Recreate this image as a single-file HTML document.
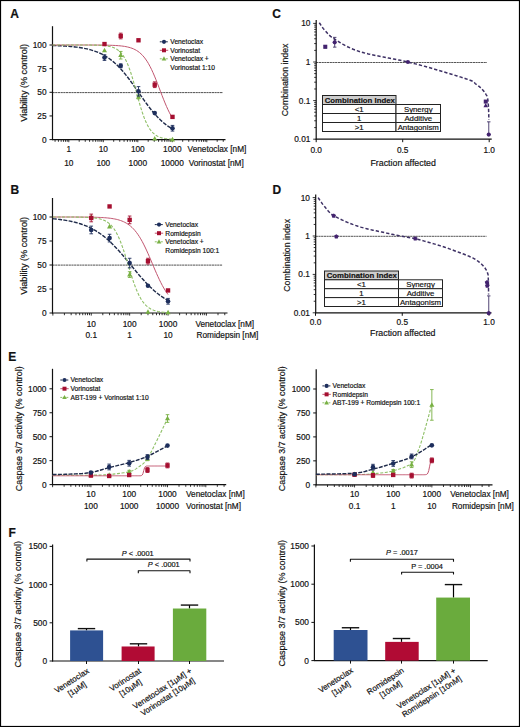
<!DOCTYPE html>
<html><head><meta charset="utf-8"><style>
html,body{margin:0;padding:0;background:#fff;}
svg{display:block;}
text{font-family:"Liberation Sans", sans-serif;stroke:#111;stroke-width:0.18px;}
</style></head><body>
<svg width="520" height="727" viewBox="0 0 520 727" font-family='"Liberation Sans", sans-serif'>
<rect x="0.5" y="0.5" width="519" height="726" fill="white" stroke="#000" stroke-width="1.2"/>
<text x="10.30" y="17.60" font-size="12" text-anchor="start" font-weight="bold" fill="#111">A</text>
<text x="10.60" y="193.80" font-size="12" text-anchor="start" font-weight="bold" fill="#111">B</text>
<text x="272.20" y="18.00" font-size="12" text-anchor="start" font-weight="bold" fill="#111">C</text>
<text x="272.40" y="194.00" font-size="12" text-anchor="start" font-weight="bold" fill="#111">D</text>
<text x="8.20" y="360.80" font-size="12" text-anchor="start" font-weight="bold" fill="#111">E</text>
<text x="8.60" y="537.20" font-size="12" text-anchor="start" font-weight="bold" fill="#111">F</text>
<line x1="52.50" y1="92.60" x2="223.00" y2="92.60" stroke="#505050" stroke-width="1.0" stroke-dasharray="2.2,0.5"/>
<line x1="52.50" y1="26.20" x2="52.50" y2="140.10" stroke="#111" stroke-width="1.2"/>
<line x1="52.00" y1="139.60" x2="225.50" y2="139.60" stroke="#111" stroke-width="1.2"/>
<line x1="49.50" y1="139.60" x2="52.50" y2="139.60" stroke="#111" stroke-width="1.0"/>
<text x="46.50" y="142.50" font-size="8.3" text-anchor="end" fill="#111">0</text>
<line x1="49.50" y1="115.95" x2="52.50" y2="115.95" stroke="#111" stroke-width="1.0"/>
<text x="46.50" y="118.85" font-size="8.3" text-anchor="end" fill="#111">25</text>
<line x1="49.50" y1="92.30" x2="52.50" y2="92.30" stroke="#111" stroke-width="1.0"/>
<text x="46.50" y="95.20" font-size="8.3" text-anchor="end" fill="#111">50</text>
<line x1="49.50" y1="68.65" x2="52.50" y2="68.65" stroke="#111" stroke-width="1.0"/>
<text x="46.50" y="71.55" font-size="8.3" text-anchor="end" fill="#111">75</text>
<line x1="49.50" y1="45.00" x2="52.50" y2="45.00" stroke="#111" stroke-width="1.0"/>
<text x="46.50" y="47.90" font-size="8.3" text-anchor="end" fill="#111">100</text>
<line x1="55.07" y1="139.60" x2="55.07" y2="141.81" stroke="#111" stroke-width="0.85"/>
<line x1="58.41" y1="139.60" x2="58.41" y2="141.81" stroke="#111" stroke-width="0.85"/>
<line x1="61.15" y1="139.60" x2="61.15" y2="141.81" stroke="#111" stroke-width="0.85"/>
<line x1="63.46" y1="139.60" x2="63.46" y2="141.81" stroke="#111" stroke-width="0.85"/>
<line x1="65.46" y1="139.60" x2="65.46" y2="141.81" stroke="#111" stroke-width="0.85"/>
<line x1="67.22" y1="139.60" x2="67.22" y2="141.81" stroke="#111" stroke-width="0.85"/>
<line x1="68.80" y1="139.60" x2="68.80" y2="142.20" stroke="#111" stroke-width="0.85"/>
<line x1="79.19" y1="139.60" x2="79.19" y2="141.81" stroke="#111" stroke-width="0.85"/>
<line x1="85.26" y1="139.60" x2="85.26" y2="141.81" stroke="#111" stroke-width="0.85"/>
<line x1="89.57" y1="139.60" x2="89.57" y2="141.81" stroke="#111" stroke-width="0.85"/>
<line x1="92.91" y1="139.60" x2="92.91" y2="141.81" stroke="#111" stroke-width="0.85"/>
<line x1="95.65" y1="139.60" x2="95.65" y2="141.81" stroke="#111" stroke-width="0.85"/>
<line x1="97.96" y1="139.60" x2="97.96" y2="141.81" stroke="#111" stroke-width="0.85"/>
<line x1="99.96" y1="139.60" x2="99.96" y2="141.81" stroke="#111" stroke-width="0.85"/>
<line x1="101.72" y1="139.60" x2="101.72" y2="141.81" stroke="#111" stroke-width="0.85"/>
<line x1="103.30" y1="139.60" x2="103.30" y2="142.20" stroke="#111" stroke-width="0.85"/>
<line x1="113.69" y1="139.60" x2="113.69" y2="141.81" stroke="#111" stroke-width="0.85"/>
<line x1="119.76" y1="139.60" x2="119.76" y2="141.81" stroke="#111" stroke-width="0.85"/>
<line x1="124.07" y1="139.60" x2="124.07" y2="141.81" stroke="#111" stroke-width="0.85"/>
<line x1="127.41" y1="139.60" x2="127.41" y2="141.81" stroke="#111" stroke-width="0.85"/>
<line x1="130.15" y1="139.60" x2="130.15" y2="141.81" stroke="#111" stroke-width="0.85"/>
<line x1="132.46" y1="139.60" x2="132.46" y2="141.81" stroke="#111" stroke-width="0.85"/>
<line x1="134.46" y1="139.60" x2="134.46" y2="141.81" stroke="#111" stroke-width="0.85"/>
<line x1="136.22" y1="139.60" x2="136.22" y2="141.81" stroke="#111" stroke-width="0.85"/>
<line x1="137.80" y1="139.60" x2="137.80" y2="142.20" stroke="#111" stroke-width="0.85"/>
<line x1="148.19" y1="139.60" x2="148.19" y2="141.81" stroke="#111" stroke-width="0.85"/>
<line x1="154.26" y1="139.60" x2="154.26" y2="141.81" stroke="#111" stroke-width="0.85"/>
<line x1="158.57" y1="139.60" x2="158.57" y2="141.81" stroke="#111" stroke-width="0.85"/>
<line x1="161.91" y1="139.60" x2="161.91" y2="141.81" stroke="#111" stroke-width="0.85"/>
<line x1="164.65" y1="139.60" x2="164.65" y2="141.81" stroke="#111" stroke-width="0.85"/>
<line x1="166.96" y1="139.60" x2="166.96" y2="141.81" stroke="#111" stroke-width="0.85"/>
<line x1="168.96" y1="139.60" x2="168.96" y2="141.81" stroke="#111" stroke-width="0.85"/>
<line x1="170.72" y1="139.60" x2="170.72" y2="141.81" stroke="#111" stroke-width="0.85"/>
<line x1="172.30" y1="139.60" x2="172.30" y2="142.20" stroke="#111" stroke-width="0.85"/>
<line x1="182.69" y1="139.60" x2="182.69" y2="141.81" stroke="#111" stroke-width="0.85"/>
<line x1="188.76" y1="139.60" x2="188.76" y2="141.81" stroke="#111" stroke-width="0.85"/>
<line x1="193.07" y1="139.60" x2="193.07" y2="141.81" stroke="#111" stroke-width="0.85"/>
<line x1="196.41" y1="139.60" x2="196.41" y2="141.81" stroke="#111" stroke-width="0.85"/>
<line x1="199.15" y1="139.60" x2="199.15" y2="141.81" stroke="#111" stroke-width="0.85"/>
<line x1="201.46" y1="139.60" x2="201.46" y2="141.81" stroke="#111" stroke-width="0.85"/>
<line x1="203.46" y1="139.60" x2="203.46" y2="141.81" stroke="#111" stroke-width="0.85"/>
<line x1="205.22" y1="139.60" x2="205.22" y2="141.81" stroke="#111" stroke-width="0.85"/>
<line x1="206.80" y1="139.60" x2="206.80" y2="142.20" stroke="#111" stroke-width="0.85"/>
<line x1="217.19" y1="139.60" x2="217.19" y2="141.81" stroke="#111" stroke-width="0.85"/>
<line x1="223.26" y1="139.60" x2="223.26" y2="141.81" stroke="#111" stroke-width="0.85"/>
<text x="68.80" y="152.20" font-size="8.3" text-anchor="middle" fill="#111">1</text>
<text x="68.80" y="165.80" font-size="8.3" text-anchor="middle" fill="#111">10</text>
<text x="103.30" y="152.20" font-size="8.3" text-anchor="middle" fill="#111">10</text>
<text x="103.30" y="165.80" font-size="8.3" text-anchor="middle" fill="#111">100</text>
<text x="137.80" y="152.20" font-size="8.3" text-anchor="middle" fill="#111">100</text>
<text x="137.80" y="165.80" font-size="8.3" text-anchor="middle" fill="#111">1000</text>
<text x="172.30" y="152.20" font-size="8.3" text-anchor="middle" fill="#111">1000</text>
<text x="172.30" y="165.80" font-size="8.3" text-anchor="middle" fill="#111">10000</text>
<text x="187.60" y="152.20" font-size="8.25" text-anchor="start" fill="#111">Venetoclax [nM]</text>
<text x="188.70" y="165.80" font-size="8.25" text-anchor="start" fill="#111">Vorinostat [nM]</text>
<text x="27.30" y="82.90" font-size="9.1" text-anchor="middle" fill="#111" transform="rotate(-90 27.30 82.90)">Viability (% control)</text>
<polyline points="52.48,45.50 53.98,45.54 55.48,45.60 56.98,45.65 58.48,45.72 59.98,45.78 61.48,45.86 62.98,45.94 64.48,46.03 65.98,46.12 67.48,46.23 68.98,46.35 70.48,46.47 71.98,46.61 73.48,46.76 74.98,46.93 76.48,47.11 77.98,47.31 79.48,47.52 80.98,47.76 82.48,48.01 83.99,48.29 85.49,48.60 86.99,48.93 88.49,49.28 89.99,49.67 91.49,50.10 92.99,50.56 94.49,51.05 95.99,51.59 97.49,52.18 98.99,52.81 100.49,53.49 101.99,54.22 103.49,55.01 104.99,55.86 106.49,56.77 107.99,57.75 109.49,58.79 110.99,59.90 112.49,61.09 113.99,62.34 115.49,63.68 116.99,65.09 118.49,66.57 119.99,68.13 121.49,69.77 122.99,71.47 124.49,73.25 125.99,75.10 127.49,77.00 128.99,78.97 130.49,80.98 131.99,83.04 133.49,85.14 134.99,87.26 136.49,89.41 137.99,91.57 139.49,93.73 140.99,95.89 142.50,98.03 144.00,100.15 145.50,102.23 147.00,104.28 148.50,106.28 150.00,108.23 151.50,110.11 153.00,111.94 154.50,113.69 156.00,115.38 157.50,116.99 159.00,118.52 160.50,119.98 162.00,121.37 163.50,122.67 165.00,123.91 166.50,125.07 168.00,126.16 169.50,127.18 171.00,128.13 172.50,129.02" fill="none" stroke="#1f2b4a" stroke-width="1.4" stroke-dasharray="4,1.3" stroke-linejoin="round"/>
<polyline points="52.48,45.00 53.98,45.00 55.48,45.00 56.98,45.00 58.48,45.00 59.98,45.00 61.48,45.00 62.98,45.00 64.48,45.00 65.98,45.00 67.48,45.00 68.98,45.00 70.48,45.00 71.98,45.00 73.48,45.00 74.98,45.00 76.48,45.01 77.98,45.01 79.48,45.01 80.98,45.01 82.48,45.01 83.99,45.01 85.49,45.01 86.99,45.02 88.49,45.02 89.99,45.02 91.49,45.03 92.99,45.04 94.49,45.04 95.99,45.05 97.49,45.06 98.99,45.07 100.49,45.08 101.99,45.10 103.49,45.12 104.99,45.14 106.49,45.17 107.99,45.20 109.49,45.24 110.99,45.29 112.49,45.35 113.99,45.41 115.49,45.49 116.99,45.58 118.49,45.70 119.99,45.83 121.49,45.99 122.99,46.17 124.49,46.39 125.99,46.66 127.49,46.97 128.99,47.34 130.49,47.77 131.99,48.28 133.49,48.89 134.99,49.60 136.49,50.43 137.99,51.40 139.49,52.52 140.99,53.83 142.50,55.33 144.00,57.05 145.50,59.00 147.00,61.20 148.50,63.67 150.00,66.41 151.50,69.40 153.00,72.65 154.50,76.12 156.00,79.79 157.50,83.60 159.00,87.51 160.50,91.46 162.00,95.38 163.50,99.22 165.00,102.92 166.50,106.44 168.00,109.74 169.50,112.80 171.00,115.59 172.50,118.12" fill="none" stroke="#c25670" stroke-width="1.0" stroke-linejoin="round"/>
<polyline points="52.48,45.00 53.98,45.00 55.48,45.00 56.98,45.00 58.48,45.00 59.98,45.00 61.48,45.00 62.98,45.00 64.48,45.00 65.98,45.00 67.48,45.00 68.98,45.00 70.48,45.00 71.98,45.00 73.48,45.01 74.98,45.01 76.48,45.01 77.98,45.01 79.48,45.01 80.98,45.02 82.48,45.02 83.99,45.03 85.49,45.03 86.99,45.04 88.49,45.05 89.99,45.07 91.49,45.09 92.99,45.11 94.49,45.14 95.99,45.17 97.49,45.22 98.99,45.28 100.49,45.35 101.99,45.44 103.49,45.55 104.99,45.70 106.49,45.88 107.99,46.11 109.49,46.40 110.99,46.76 112.49,47.21 113.99,47.77 115.49,48.48 116.99,49.35 118.49,50.43 119.99,51.76 121.49,53.38 122.99,55.34 124.49,57.70 125.99,60.49 127.49,63.76 128.99,67.52 130.49,71.78 131.99,76.48 133.49,81.56 134.99,86.92 136.49,92.43 137.99,97.93 139.49,103.27 140.99,108.34 142.50,113.03 144.00,117.26 145.50,121.00 147.00,124.24 148.50,127.02 150.00,129.36 151.50,131.30 153.00,132.91 154.50,134.23 156.00,135.29 157.50,136.16 159.00,136.86 160.50,137.41 162.00,137.86 163.50,138.22 165.00,138.50 166.50,138.73 168.00,138.91 169.50,139.05 171.00,139.17 172.50,139.26" fill="none" stroke="#8ebf66" stroke-width="1.1" stroke-dasharray="3,1.6" stroke-linejoin="round"/>
<line x1="120.72" y1="51.43" x2="120.72" y2="59.00" stroke="#78b043" stroke-width="0.9"/>
<line x1="118.92" y1="51.43" x2="122.52" y2="51.43" stroke="#78b043" stroke-width="0.9"/>
<line x1="118.92" y1="59.00" x2="122.52" y2="59.00" stroke="#78b043" stroke-width="0.9"/>
<line x1="138.50" y1="95.14" x2="138.50" y2="98.92" stroke="#78b043" stroke-width="0.9"/>
<line x1="136.70" y1="95.14" x2="140.30" y2="95.14" stroke="#78b043" stroke-width="0.9"/>
<line x1="136.70" y1="98.92" x2="140.30" y2="98.92" stroke="#78b043" stroke-width="0.9"/>
<polygon points="104.50,47.66 101.97,52.21 107.03,52.21" fill="#78b043"/>
<polygon points="120.72,52.48 118.19,57.04 123.25,57.04" fill="#78b043"/>
<polygon points="138.50,94.30 135.97,98.85 141.03,98.85" fill="#78b043"/>
<polygon points="154.72,135.92 152.19,140.48 157.25,140.48" fill="#78b043"/>
<polygon points="172.50,136.87 169.97,141.42 175.03,141.42" fill="#78b043"/>
<line x1="120.72" y1="33.17" x2="120.72" y2="38.85" stroke="#a50f30" stroke-width="0.9"/>
<line x1="118.92" y1="33.17" x2="122.52" y2="33.17" stroke="#a50f30" stroke-width="0.9"/>
<line x1="118.92" y1="38.85" x2="122.52" y2="38.85" stroke="#a50f30" stroke-width="0.9"/>
<line x1="154.72" y1="81.89" x2="154.72" y2="87.57" stroke="#a50f30" stroke-width="0.9"/>
<line x1="152.92" y1="81.89" x2="156.52" y2="81.89" stroke="#a50f30" stroke-width="0.9"/>
<line x1="152.92" y1="87.57" x2="156.52" y2="87.57" stroke="#a50f30" stroke-width="0.9"/>
<rect x="102.31" y="41.87" width="4.369999999999999" height="4.369999999999999" fill="#a50f30"/>
<rect x="118.54" y="33.83" width="4.369999999999999" height="4.369999999999999" fill="#a50f30"/>
<rect x="136.31" y="38.09" width="4.369999999999999" height="4.369999999999999" fill="#a50f30"/>
<rect x="152.54" y="82.55" width="4.369999999999999" height="4.369999999999999" fill="#a50f30"/>
<rect x="170.31" y="114.71" width="4.369999999999999" height="4.369999999999999" fill="#a50f30"/>
<line x1="104.50" y1="54.74" x2="104.50" y2="60.42" stroke="#1d2e5c" stroke-width="0.9"/>
<line x1="102.70" y1="54.74" x2="106.30" y2="54.74" stroke="#1d2e5c" stroke-width="0.9"/>
<line x1="102.70" y1="60.42" x2="106.30" y2="60.42" stroke="#1d2e5c" stroke-width="0.9"/>
<line x1="120.72" y1="63.92" x2="120.72" y2="67.70" stroke="#1d2e5c" stroke-width="0.9"/>
<line x1="118.92" y1="63.92" x2="122.52" y2="63.92" stroke="#1d2e5c" stroke-width="0.9"/>
<line x1="118.92" y1="67.70" x2="122.52" y2="67.70" stroke="#1d2e5c" stroke-width="0.9"/>
<line x1="138.50" y1="86.62" x2="138.50" y2="96.08" stroke="#1d2e5c" stroke-width="0.9"/>
<line x1="136.70" y1="86.62" x2="140.30" y2="86.62" stroke="#1d2e5c" stroke-width="0.9"/>
<line x1="136.70" y1="96.08" x2="140.30" y2="96.08" stroke="#1d2e5c" stroke-width="0.9"/>
<line x1="172.50" y1="125.41" x2="172.50" y2="131.09" stroke="#1d2e5c" stroke-width="0.9"/>
<line x1="170.70" y1="125.41" x2="174.30" y2="125.41" stroke="#1d2e5c" stroke-width="0.9"/>
<line x1="170.70" y1="131.09" x2="174.30" y2="131.09" stroke="#1d2e5c" stroke-width="0.9"/>
<circle cx="104.50" cy="57.58" r="2.3" fill="#1d2e5c"/>
<circle cx="120.72" cy="65.81" r="2.3" fill="#1d2e5c"/>
<circle cx="138.50" cy="91.35" r="2.3" fill="#1d2e5c"/>
<circle cx="154.72" cy="113.11" r="2.3" fill="#1d2e5c"/>
<circle cx="172.50" cy="128.25" r="2.3" fill="#1d2e5c"/>
<line x1="159.80" y1="41.80" x2="168.20" y2="41.80" stroke="#1f2b4a" stroke-width="1.0" stroke-dasharray="2,1"/>
<circle cx="164.00" cy="41.80" r="2.1" fill="#1d2e5c"/>
<text x="170.30" y="44.20" font-size="6.7" text-anchor="start" fill="#111">Venetoclax</text>
<line x1="159.80" y1="50.30" x2="168.20" y2="50.30" stroke="#c25670" stroke-width="1.0"/>
<rect x="162.00" y="48.30" width="3.9899999999999998" height="3.9899999999999998" fill="#a50f30"/>
<text x="170.30" y="52.70" font-size="6.7" text-anchor="start" fill="#111">Vorinostat</text>
<line x1="159.80" y1="58.80" x2="168.20" y2="58.80" stroke="#8ebf66" stroke-width="1.0" stroke-dasharray="2,1"/>
<polygon points="164.00,56.31 161.69,60.46 166.31,60.46" fill="#78b043"/>
<text x="170.30" y="61.20" font-size="6.7" text-anchor="start" fill="#111">Venetoclax +</text>
<text x="170.30" y="69.70" font-size="6.7" text-anchor="start" fill="#111">Vorinostat 1:10</text>
<line x1="52.50" y1="265.10" x2="222.60" y2="265.10" stroke="#505050" stroke-width="1.0" stroke-dasharray="2.2,0.5"/>
<line x1="52.50" y1="198.00" x2="52.50" y2="313.50" stroke="#111" stroke-width="1.2"/>
<line x1="52.00" y1="313.00" x2="227.50" y2="313.00" stroke="#111" stroke-width="1.2"/>
<line x1="49.50" y1="313.00" x2="52.50" y2="313.00" stroke="#111" stroke-width="1.0"/>
<text x="46.50" y="315.90" font-size="8.3" text-anchor="end" fill="#111">0</text>
<line x1="49.50" y1="289.00" x2="52.50" y2="289.00" stroke="#111" stroke-width="1.0"/>
<text x="46.50" y="291.90" font-size="8.3" text-anchor="end" fill="#111">25</text>
<line x1="49.50" y1="265.00" x2="52.50" y2="265.00" stroke="#111" stroke-width="1.0"/>
<text x="46.50" y="267.90" font-size="8.3" text-anchor="end" fill="#111">50</text>
<line x1="49.50" y1="241.00" x2="52.50" y2="241.00" stroke="#111" stroke-width="1.0"/>
<text x="46.50" y="243.90" font-size="8.3" text-anchor="end" fill="#111">75</text>
<line x1="49.50" y1="217.00" x2="52.50" y2="217.00" stroke="#111" stroke-width="1.0"/>
<text x="46.50" y="219.90" font-size="8.3" text-anchor="end" fill="#111">100</text>
<line x1="52.85" y1="313.00" x2="52.85" y2="315.60" stroke="#111" stroke-width="0.85"/>
<line x1="64.41" y1="313.00" x2="64.41" y2="315.21" stroke="#111" stroke-width="0.85"/>
<line x1="71.17" y1="313.00" x2="71.17" y2="315.21" stroke="#111" stroke-width="0.85"/>
<line x1="75.97" y1="313.00" x2="75.97" y2="315.21" stroke="#111" stroke-width="0.85"/>
<line x1="79.69" y1="313.00" x2="79.69" y2="315.21" stroke="#111" stroke-width="0.85"/>
<line x1="82.73" y1="313.00" x2="82.73" y2="315.21" stroke="#111" stroke-width="0.85"/>
<line x1="85.30" y1="313.00" x2="85.30" y2="315.21" stroke="#111" stroke-width="0.85"/>
<line x1="87.53" y1="313.00" x2="87.53" y2="315.21" stroke="#111" stroke-width="0.85"/>
<line x1="89.49" y1="313.00" x2="89.49" y2="315.21" stroke="#111" stroke-width="0.85"/>
<line x1="91.25" y1="313.00" x2="91.25" y2="315.60" stroke="#111" stroke-width="0.85"/>
<line x1="102.81" y1="313.00" x2="102.81" y2="315.21" stroke="#111" stroke-width="0.85"/>
<line x1="109.57" y1="313.00" x2="109.57" y2="315.21" stroke="#111" stroke-width="0.85"/>
<line x1="114.37" y1="313.00" x2="114.37" y2="315.21" stroke="#111" stroke-width="0.85"/>
<line x1="118.09" y1="313.00" x2="118.09" y2="315.21" stroke="#111" stroke-width="0.85"/>
<line x1="121.13" y1="313.00" x2="121.13" y2="315.21" stroke="#111" stroke-width="0.85"/>
<line x1="123.70" y1="313.00" x2="123.70" y2="315.21" stroke="#111" stroke-width="0.85"/>
<line x1="125.93" y1="313.00" x2="125.93" y2="315.21" stroke="#111" stroke-width="0.85"/>
<line x1="127.89" y1="313.00" x2="127.89" y2="315.21" stroke="#111" stroke-width="0.85"/>
<line x1="129.65" y1="313.00" x2="129.65" y2="315.60" stroke="#111" stroke-width="0.85"/>
<line x1="141.21" y1="313.00" x2="141.21" y2="315.21" stroke="#111" stroke-width="0.85"/>
<line x1="147.97" y1="313.00" x2="147.97" y2="315.21" stroke="#111" stroke-width="0.85"/>
<line x1="152.77" y1="313.00" x2="152.77" y2="315.21" stroke="#111" stroke-width="0.85"/>
<line x1="156.49" y1="313.00" x2="156.49" y2="315.21" stroke="#111" stroke-width="0.85"/>
<line x1="159.53" y1="313.00" x2="159.53" y2="315.21" stroke="#111" stroke-width="0.85"/>
<line x1="162.10" y1="313.00" x2="162.10" y2="315.21" stroke="#111" stroke-width="0.85"/>
<line x1="164.33" y1="313.00" x2="164.33" y2="315.21" stroke="#111" stroke-width="0.85"/>
<line x1="166.29" y1="313.00" x2="166.29" y2="315.21" stroke="#111" stroke-width="0.85"/>
<line x1="168.05" y1="313.00" x2="168.05" y2="315.60" stroke="#111" stroke-width="0.85"/>
<line x1="179.61" y1="313.00" x2="179.61" y2="315.21" stroke="#111" stroke-width="0.85"/>
<line x1="186.37" y1="313.00" x2="186.37" y2="315.21" stroke="#111" stroke-width="0.85"/>
<line x1="191.17" y1="313.00" x2="191.17" y2="315.21" stroke="#111" stroke-width="0.85"/>
<line x1="194.89" y1="313.00" x2="194.89" y2="315.21" stroke="#111" stroke-width="0.85"/>
<line x1="197.93" y1="313.00" x2="197.93" y2="315.21" stroke="#111" stroke-width="0.85"/>
<line x1="200.50" y1="313.00" x2="200.50" y2="315.21" stroke="#111" stroke-width="0.85"/>
<line x1="202.73" y1="313.00" x2="202.73" y2="315.21" stroke="#111" stroke-width="0.85"/>
<line x1="204.69" y1="313.00" x2="204.69" y2="315.21" stroke="#111" stroke-width="0.85"/>
<line x1="206.45" y1="313.00" x2="206.45" y2="315.60" stroke="#111" stroke-width="0.85"/>
<line x1="218.01" y1="313.00" x2="218.01" y2="315.21" stroke="#111" stroke-width="0.85"/>
<line x1="224.77" y1="313.00" x2="224.77" y2="315.21" stroke="#111" stroke-width="0.85"/>
<text x="91.25" y="326.50" font-size="8.3" text-anchor="middle" fill="#111">10</text>
<text x="91.25" y="338.20" font-size="8.3" text-anchor="middle" fill="#111">0.1</text>
<text x="129.65" y="326.50" font-size="8.3" text-anchor="middle" fill="#111">100</text>
<text x="129.65" y="338.20" font-size="8.3" text-anchor="middle" fill="#111">1</text>
<text x="168.05" y="326.50" font-size="8.3" text-anchor="middle" fill="#111">1000</text>
<text x="168.05" y="338.20" font-size="8.3" text-anchor="middle" fill="#111">10</text>
<text x="195.40" y="326.50" font-size="8.25" text-anchor="start" fill="#111">Venetoclax [nM]</text>
<text x="196.50" y="338.20" font-size="8.25" text-anchor="start" fill="#111">Romidepsin [nM]</text>
<text x="27.30" y="255.80" font-size="9.1" text-anchor="middle" fill="#111" transform="rotate(-90 27.30 255.80)">Viability (% control)</text>
<polyline points="52.85,218.77 54.29,218.91 55.73,219.05 57.17,219.20 58.61,219.36 60.05,219.54 61.49,219.73 62.93,219.93 64.37,220.14 65.81,220.37 67.25,220.62 68.69,220.89 70.13,221.17 71.57,221.47 73.01,221.79 74.45,222.14 75.89,222.51 77.33,222.90 78.77,223.32 80.21,223.77 81.65,224.25 83.09,224.75 84.53,225.29 85.97,225.87 87.41,226.48 88.85,227.12 90.29,227.81 91.73,228.53 93.17,229.30 94.61,230.10 96.05,230.96 97.49,231.86 98.93,232.80 100.37,233.79 101.81,234.83 103.25,235.93 104.69,237.07 106.13,238.25 107.57,239.49 109.01,240.78 110.45,242.12 111.89,243.51 113.33,244.94 114.77,246.41 116.21,247.93 117.65,249.49 119.09,251.08 120.53,252.71 121.97,254.38 123.41,256.06 124.85,257.77 126.29,259.50 127.73,261.25 129.17,263.00 130.61,264.77 132.05,266.53 133.49,268.28 134.93,270.03 136.37,271.77 137.81,273.48 139.25,275.18 140.69,276.85 142.13,278.48 143.57,280.09 145.01,281.66 146.45,283.19 147.89,284.67 149.33,286.12 150.77,287.52 152.21,288.87 153.65,290.17 155.09,291.42 156.53,292.62 157.97,293.78 159.41,294.88 160.85,295.93 162.29,296.94 163.73,297.90 165.17,298.81 166.61,299.67 168.05,300.49" fill="none" stroke="#1f2b4a" stroke-width="1.4" stroke-dasharray="4,1.3" stroke-linejoin="round"/>
<polyline points="52.85,217.00 54.29,217.00 55.73,217.00 57.17,217.01 58.61,217.01 60.05,217.01 61.49,217.01 62.93,217.01 64.37,217.01 65.81,217.01 67.25,217.02 68.69,217.02 70.13,217.02 71.57,217.02 73.01,217.03 74.45,217.03 75.89,217.04 77.33,217.04 78.77,217.05 80.21,217.06 81.65,217.07 83.09,217.08 84.53,217.09 85.97,217.11 87.41,217.12 88.85,217.14 90.29,217.17 91.73,217.19 93.17,217.22 94.61,217.26 96.05,217.30 97.49,217.35 98.93,217.40 100.37,217.47 101.81,217.54 103.25,217.62 104.69,217.72 106.13,217.83 107.57,217.96 109.01,218.11 110.45,218.29 111.89,218.49 113.33,218.72 114.77,218.99 116.21,219.29 117.65,219.64 119.09,220.05 120.53,220.51 121.97,221.04 123.41,221.65 124.85,222.34 126.29,223.13 127.73,224.03 129.17,225.05 130.61,226.19 132.05,227.48 133.49,228.93 134.93,230.54 136.37,232.33 137.81,234.30 139.25,236.46 140.69,238.82 142.13,241.37 143.57,244.10 145.01,247.00 146.45,250.06 147.89,253.25 149.33,256.55 150.77,259.92 152.21,263.33 153.65,266.74 155.09,270.12 156.53,273.43 157.97,276.64 159.41,279.72 160.85,282.64 162.29,285.40 163.73,287.97 165.17,290.35 166.61,292.54 168.05,294.54" fill="none" stroke="#c25670" stroke-width="1.0" stroke-linejoin="round"/>
<polyline points="52.85,217.00 54.29,217.00 55.73,217.00 57.17,217.01 58.61,217.01 60.05,217.01 61.49,217.01 62.93,217.01 64.37,217.01 65.81,217.02 67.25,217.02 68.69,217.03 70.13,217.03 71.57,217.04 73.01,217.05 74.45,217.06 75.89,217.07 77.33,217.09 78.77,217.11 80.21,217.13 81.65,217.16 83.09,217.19 84.53,217.23 85.97,217.28 87.41,217.35 88.85,217.42 90.29,217.51 91.73,217.62 93.17,217.76 94.61,217.93 96.05,218.13 97.49,218.37 98.93,218.67 100.37,219.03 101.81,219.46 103.25,219.98 104.69,220.61 106.13,221.37 107.57,222.28 109.01,223.36 110.45,224.65 111.89,226.17 113.33,227.95 114.77,230.03 116.21,232.44 117.65,235.19 119.09,238.29 120.53,241.77 121.97,245.59 123.41,249.73 124.85,254.13 126.29,258.74 127.73,263.48 129.17,268.24 130.61,272.93 132.05,277.48 133.49,281.80 134.93,285.83 136.37,289.53 137.81,292.87 139.25,295.85 140.69,298.47 142.13,300.75 143.57,302.72 145.01,304.41 146.45,305.84 147.89,307.05 149.33,308.07 150.77,308.92 152.21,309.63 153.65,310.22 155.09,310.71 156.53,311.11 157.97,311.45 159.41,311.72 160.85,311.95 162.29,312.14 163.73,312.29 165.17,312.42 166.61,312.52 168.05,312.61" fill="none" stroke="#8ebf66" stroke-width="1.1" stroke-dasharray="3,1.6" stroke-linejoin="round"/>
<line x1="129.65" y1="271.72" x2="129.65" y2="277.48" stroke="#78b043" stroke-width="0.9"/>
<line x1="127.85" y1="271.72" x2="131.45" y2="271.72" stroke="#78b043" stroke-width="0.9"/>
<line x1="127.85" y1="277.48" x2="131.45" y2="277.48" stroke="#78b043" stroke-width="0.9"/>
<polygon points="91.25,214.27 88.72,218.82 93.78,218.82" fill="#78b043"/>
<polygon points="109.57,223.87 107.04,228.42 112.10,228.42" fill="#78b043"/>
<polygon points="129.65,271.87 127.12,276.42 132.18,276.42" fill="#78b043"/>
<polygon points="147.97,309.31 145.44,313.86 150.50,313.86" fill="#78b043"/>
<polygon points="168.05,309.79 165.52,314.34 170.58,314.34" fill="#78b043"/>
<line x1="91.25" y1="214.12" x2="91.25" y2="221.80" stroke="#a50f30" stroke-width="0.9"/>
<line x1="89.45" y1="214.12" x2="93.05" y2="214.12" stroke="#a50f30" stroke-width="0.9"/>
<line x1="89.45" y1="221.80" x2="93.05" y2="221.80" stroke="#a50f30" stroke-width="0.9"/>
<line x1="129.65" y1="216.04" x2="129.65" y2="223.72" stroke="#a50f30" stroke-width="0.9"/>
<line x1="127.85" y1="216.04" x2="131.45" y2="216.04" stroke="#a50f30" stroke-width="0.9"/>
<line x1="127.85" y1="223.72" x2="131.45" y2="223.72" stroke="#a50f30" stroke-width="0.9"/>
<line x1="147.97" y1="258.28" x2="147.97" y2="264.04" stroke="#a50f30" stroke-width="0.9"/>
<line x1="146.17" y1="258.28" x2="149.77" y2="258.28" stroke="#a50f30" stroke-width="0.9"/>
<line x1="146.17" y1="264.04" x2="149.77" y2="264.04" stroke="#a50f30" stroke-width="0.9"/>
<rect x="89.06" y="215.78" width="4.369999999999999" height="4.369999999999999" fill="#a50f30"/>
<rect x="107.39" y="204.25" width="4.369999999999999" height="4.369999999999999" fill="#a50f30"/>
<rect x="127.47" y="217.69" width="4.369999999999999" height="4.369999999999999" fill="#a50f30"/>
<rect x="145.79" y="258.97" width="4.369999999999999" height="4.369999999999999" fill="#a50f30"/>
<rect x="165.86" y="288.25" width="4.369999999999999" height="4.369999999999999" fill="#a50f30"/>
<line x1="91.25" y1="226.12" x2="91.25" y2="233.80" stroke="#1d2e5c" stroke-width="0.9"/>
<line x1="89.45" y1="226.12" x2="93.05" y2="226.12" stroke="#1d2e5c" stroke-width="0.9"/>
<line x1="89.45" y1="233.80" x2="93.05" y2="233.80" stroke="#1d2e5c" stroke-width="0.9"/>
<line x1="109.57" y1="234.28" x2="109.57" y2="241.96" stroke="#1d2e5c" stroke-width="0.9"/>
<line x1="107.77" y1="234.28" x2="111.37" y2="234.28" stroke="#1d2e5c" stroke-width="0.9"/>
<line x1="107.77" y1="241.96" x2="111.37" y2="241.96" stroke="#1d2e5c" stroke-width="0.9"/>
<line x1="129.65" y1="258.28" x2="129.65" y2="267.88" stroke="#1d2e5c" stroke-width="0.9"/>
<line x1="127.85" y1="258.28" x2="131.45" y2="258.28" stroke="#1d2e5c" stroke-width="0.9"/>
<line x1="127.85" y1="267.88" x2="131.45" y2="267.88" stroke="#1d2e5c" stroke-width="0.9"/>
<line x1="168.05" y1="298.41" x2="168.05" y2="304.17" stroke="#1d2e5c" stroke-width="0.9"/>
<line x1="166.25" y1="298.41" x2="169.85" y2="298.41" stroke="#1d2e5c" stroke-width="0.9"/>
<line x1="166.25" y1="304.17" x2="169.85" y2="304.17" stroke="#1d2e5c" stroke-width="0.9"/>
<circle cx="91.25" cy="229.96" r="2.3" fill="#1d2e5c"/>
<circle cx="109.57" cy="238.12" r="2.3" fill="#1d2e5c"/>
<circle cx="129.65" cy="263.08" r="2.3" fill="#1d2e5c"/>
<circle cx="147.97" cy="285.74" r="2.3" fill="#1d2e5c"/>
<circle cx="168.05" cy="301.29" r="2.3" fill="#1d2e5c"/>
<line x1="154.80" y1="224.60" x2="163.20" y2="224.60" stroke="#1f2b4a" stroke-width="1.0" stroke-dasharray="2,1"/>
<circle cx="159.00" cy="224.60" r="2.1" fill="#1d2e5c"/>
<text x="165.30" y="227.00" font-size="6.7" text-anchor="start" fill="#111">Venetoclax</text>
<line x1="154.80" y1="233.20" x2="163.20" y2="233.20" stroke="#c25670" stroke-width="1.0"/>
<rect x="157.00" y="231.20" width="3.9899999999999998" height="3.9899999999999998" fill="#a50f30"/>
<text x="165.30" y="235.60" font-size="6.7" text-anchor="start" fill="#111">Romidepsin</text>
<line x1="154.80" y1="241.80" x2="163.20" y2="241.80" stroke="#8ebf66" stroke-width="1.0" stroke-dasharray="2,1"/>
<polygon points="159.00,239.31 156.69,243.46 161.31,243.46" fill="#78b043"/>
<text x="165.30" y="244.20" font-size="6.7" text-anchor="start" fill="#111">Venetoclax +</text>
<text x="165.30" y="252.80" font-size="6.7" text-anchor="start" fill="#111">Romidepsin 100:1</text>
<line x1="316.20" y1="62.50" x2="487.00" y2="62.50" stroke="#555" stroke-width="1.0" stroke-dasharray="2.2,0.5"/>
<line x1="316.20" y1="20.00" x2="316.20" y2="139.70" stroke="#111" stroke-width="1.2"/>
<line x1="315.70" y1="139.20" x2="491.70" y2="139.20" stroke="#111" stroke-width="1.2"/>
<line x1="313.20" y1="139.20" x2="316.20" y2="139.20" stroke="#111" stroke-width="0.85"/>
<line x1="314.20" y1="127.58" x2="316.20" y2="127.58" stroke="#111" stroke-width="0.85"/>
<line x1="314.20" y1="120.78" x2="316.20" y2="120.78" stroke="#111" stroke-width="0.85"/>
<line x1="314.20" y1="115.96" x2="316.20" y2="115.96" stroke="#111" stroke-width="0.85"/>
<line x1="314.20" y1="112.22" x2="316.20" y2="112.22" stroke="#111" stroke-width="0.85"/>
<line x1="314.20" y1="109.16" x2="316.20" y2="109.16" stroke="#111" stroke-width="0.85"/>
<line x1="314.20" y1="106.58" x2="316.20" y2="106.58" stroke="#111" stroke-width="0.85"/>
<line x1="314.20" y1="104.34" x2="316.20" y2="104.34" stroke="#111" stroke-width="0.85"/>
<line x1="314.20" y1="102.37" x2="316.20" y2="102.37" stroke="#111" stroke-width="0.85"/>
<line x1="313.20" y1="100.60" x2="316.20" y2="100.60" stroke="#111" stroke-width="0.85"/>
<line x1="314.20" y1="88.98" x2="316.20" y2="88.98" stroke="#111" stroke-width="0.85"/>
<line x1="314.20" y1="82.18" x2="316.20" y2="82.18" stroke="#111" stroke-width="0.85"/>
<line x1="314.20" y1="77.36" x2="316.20" y2="77.36" stroke="#111" stroke-width="0.85"/>
<line x1="314.20" y1="73.62" x2="316.20" y2="73.62" stroke="#111" stroke-width="0.85"/>
<line x1="314.20" y1="70.56" x2="316.20" y2="70.56" stroke="#111" stroke-width="0.85"/>
<line x1="314.20" y1="67.98" x2="316.20" y2="67.98" stroke="#111" stroke-width="0.85"/>
<line x1="314.20" y1="65.74" x2="316.20" y2="65.74" stroke="#111" stroke-width="0.85"/>
<line x1="314.20" y1="63.77" x2="316.20" y2="63.77" stroke="#111" stroke-width="0.85"/>
<line x1="313.20" y1="62.00" x2="316.20" y2="62.00" stroke="#111" stroke-width="0.85"/>
<line x1="314.20" y1="50.38" x2="316.20" y2="50.38" stroke="#111" stroke-width="0.85"/>
<line x1="314.20" y1="43.58" x2="316.20" y2="43.58" stroke="#111" stroke-width="0.85"/>
<line x1="314.20" y1="38.76" x2="316.20" y2="38.76" stroke="#111" stroke-width="0.85"/>
<line x1="314.20" y1="35.02" x2="316.20" y2="35.02" stroke="#111" stroke-width="0.85"/>
<line x1="314.20" y1="31.96" x2="316.20" y2="31.96" stroke="#111" stroke-width="0.85"/>
<line x1="314.20" y1="29.38" x2="316.20" y2="29.38" stroke="#111" stroke-width="0.85"/>
<line x1="314.20" y1="27.14" x2="316.20" y2="27.14" stroke="#111" stroke-width="0.85"/>
<line x1="314.20" y1="25.17" x2="316.20" y2="25.17" stroke="#111" stroke-width="0.85"/>
<line x1="313.20" y1="23.40" x2="316.20" y2="23.40" stroke="#111" stroke-width="0.85"/>
<text x="310.40" y="26.30" font-size="8.3" text-anchor="end" fill="#111">10</text>
<text x="310.40" y="64.90" font-size="8.3" text-anchor="end" fill="#111">1</text>
<text x="310.40" y="103.50" font-size="8.3" text-anchor="end" fill="#111">0.1</text>
<text x="310.40" y="142.10" font-size="8.3" text-anchor="end" fill="#111">0.01</text>
<line x1="316.20" y1="139.20" x2="316.20" y2="142.20" stroke="#111" stroke-width="1.0"/>
<text x="316.20" y="152.60" font-size="8.3" text-anchor="middle" fill="#111">0.0</text>
<line x1="402.70" y1="139.20" x2="402.70" y2="142.20" stroke="#111" stroke-width="1.0"/>
<text x="402.70" y="152.60" font-size="8.3" text-anchor="middle" fill="#111">0.5</text>
<line x1="489.20" y1="139.20" x2="489.20" y2="142.20" stroke="#111" stroke-width="1.0"/>
<text x="489.20" y="152.60" font-size="8.3" text-anchor="middle" fill="#111">1.0</text>
<text x="403.20" y="166.00" font-size="8.8" text-anchor="middle" fill="#111">Fraction affected</text>
<text x="288.10" y="79.90" font-size="8.8" text-anchor="middle" fill="#111" transform="rotate(-90 288.10 79.90)">Combination index</text>
<polyline points="319.31,22.78 319.62,23.23 320.00,23.79 320.43,24.45 320.92,25.20 321.46,26.01 322.05,26.86 322.69,27.74 323.37,28.62 324.09,29.50 324.85,30.35 325.60,31.17 326.31,32.00 327.03,32.82 327.78,33.67 328.60,34.52 329.51,35.41 330.56,36.32 331.76,37.27 333.17,38.26 334.80,39.30 336.60,40.41 338.49,41.59 340.51,42.83 342.68,44.11 345.01,45.41 347.53,46.72 350.27,48.02 353.24,49.29 356.46,50.52 359.97,51.69 363.91,52.81 368.34,53.91 373.15,54.98 378.22,56.03 383.45,57.06 388.71,58.07 393.90,59.07 398.91,60.06 403.61,61.03 407.89,62.00 411.80,62.95 415.49,63.88 418.97,64.79 422.30,65.68 425.49,66.57 428.60,67.44 431.64,68.32 434.66,69.20 437.69,70.09 440.76,70.99 443.94,71.93 447.22,72.91 450.54,73.92 453.85,74.93 457.09,75.93 460.18,76.91 463.08,77.84 465.72,78.71 468.05,79.51 470.00,80.20 471.52,80.79 472.64,81.29 473.44,81.70 473.98,82.06 474.32,82.37 474.54,82.66 474.71,82.93 474.88,83.20 475.14,83.49 475.53,83.81 476.02,84.15 476.49,84.49 476.95,84.82 477.40,85.14 477.84,85.47 478.26,85.79 478.67,86.11 479.08,86.44 479.47,86.76 479.86,87.09 480.23,87.42 480.59,87.74 480.94,88.06 481.27,88.39 481.60,88.71 481.92,89.04 482.23,89.37 482.54,89.71 482.84,90.05 483.14,90.41 483.45,90.78 483.75,91.17 484.06,91.57 484.36,91.98 484.65,92.40 484.93,92.81 485.20,93.21 485.46,93.60 485.69,93.96 485.91,94.31 486.11,94.61 486.29,94.88 486.45,95.12 486.59,95.34 486.72,95.56 486.85,95.78 486.96,96.03 487.08,96.31 487.19,96.63 487.30,97.01 487.41,97.43 487.51,97.87 487.61,98.34 487.70,98.83 487.78,99.35 487.87,99.90 487.94,100.50 488.02,101.13 488.09,101.81 488.16,102.53 488.23,103.32 488.29,104.19 488.35,105.13 488.41,106.10 488.46,107.11 488.51,108.13 488.56,109.14 488.60,110.13 488.64,111.09 488.68,111.99 488.71,112.88 488.74,113.80 488.76,114.72 488.78,115.64 488.80,116.53 488.81,117.38 488.83,118.16 488.84,118.85 488.85,119.44 488.85,119.90" fill="none" stroke="#3d3064" stroke-width="1.5" stroke-dasharray="3.3,2.0" stroke-linejoin="round"/>
<rect x="322.50" y="95.50" width="73.50" height="9.00" fill="#cdcdcd" stroke="#222" stroke-width="1"/>
<text x="324.70" y="103.00" font-size="7.8" text-anchor="start" font-weight="bold" fill="#111">Combination Index</text>
<rect x="322.50" y="104.50" width="73.50" height="9.00" fill="white" stroke="#222" stroke-width="1"/>
<rect x="396.00" y="104.50" width="44.50" height="9.00" fill="white" stroke="#222" stroke-width="1"/>
<text x="359.25" y="112.00" font-size="7.8" text-anchor="middle" fill="#111">&lt;1</text>
<text x="418.25" y="112.00" font-size="7.8" text-anchor="middle" fill="#111">Synergy</text>
<rect x="322.50" y="113.50" width="73.50" height="9.00" fill="white" stroke="#222" stroke-width="1"/>
<rect x="396.00" y="113.50" width="44.50" height="9.00" fill="white" stroke="#222" stroke-width="1"/>
<text x="359.25" y="121.00" font-size="7.8" text-anchor="middle" fill="#111">1</text>
<text x="418.25" y="121.00" font-size="7.8" text-anchor="middle" fill="#111">Additive</text>
<rect x="322.50" y="122.50" width="73.50" height="9.00" fill="white" stroke="#222" stroke-width="1"/>
<rect x="396.00" y="122.50" width="44.50" height="9.00" fill="white" stroke="#222" stroke-width="1"/>
<text x="359.25" y="130.00" font-size="7.8" text-anchor="middle" fill="#111">&gt;1</text>
<text x="418.25" y="130.00" font-size="7.8" text-anchor="middle" fill="#111">Antagonism</text>
<line x1="325.30" y1="45.79" x2="325.30" y2="48.10" stroke="#3d3064" stroke-width="0.9"/>
<line x1="323.60" y1="45.79" x2="327.00" y2="45.79" stroke="#3d3064" stroke-width="0.9"/>
<line x1="323.60" y1="48.10" x2="327.00" y2="48.10" stroke="#3d3064" stroke-width="0.9"/>
<rect x="323.30" y="44.72" width="3.9899999999999998" height="3.9899999999999998" fill="#43236f"/>
<line x1="334.71" y1="37.37" x2="334.71" y2="47.14" stroke="#3d3064" stroke-width="0.9"/>
<line x1="333.01" y1="37.37" x2="336.41" y2="37.37" stroke="#3d3064" stroke-width="0.9"/>
<line x1="333.01" y1="47.14" x2="336.41" y2="47.14" stroke="#3d3064" stroke-width="0.9"/>
<circle cx="334.71" cy="42.31" r="2.1" fill="#43236f"/>
<circle cx="407.89" cy="62.00" r="2.1" fill="#43236f"/>
<rect x="483.75" y="99.57" width="3.9899999999999998" height="3.9899999999999998" fill="#43236f"/>
<polygon points="485.74,103.12 483.43,107.28 488.05,107.28" fill="#43236f"/>
<line x1="488.77" y1="121.83" x2="488.77" y2="134.57" stroke="#3d3064" stroke-width="0.9"/>
<line x1="487.07" y1="121.83" x2="490.47" y2="121.83" stroke="#3d3064" stroke-width="0.9"/>
<line x1="487.07" y1="134.57" x2="490.47" y2="134.57" stroke="#3d3064" stroke-width="0.9"/>
<circle cx="488.77" cy="134.57" r="2.1" fill="#43236f"/>
<line x1="315.70" y1="236.30" x2="486.50" y2="236.30" stroke="#555" stroke-width="1.0" stroke-dasharray="2.2,0.5"/>
<line x1="315.70" y1="194.60" x2="315.70" y2="313.30" stroke="#111" stroke-width="1.2"/>
<line x1="315.20" y1="312.80" x2="491.50" y2="312.80" stroke="#111" stroke-width="1.2"/>
<line x1="312.70" y1="312.80" x2="315.70" y2="312.80" stroke="#111" stroke-width="0.85"/>
<line x1="313.70" y1="301.24" x2="315.70" y2="301.24" stroke="#111" stroke-width="0.85"/>
<line x1="313.70" y1="294.48" x2="315.70" y2="294.48" stroke="#111" stroke-width="0.85"/>
<line x1="313.70" y1="289.68" x2="315.70" y2="289.68" stroke="#111" stroke-width="0.85"/>
<line x1="313.70" y1="285.96" x2="315.70" y2="285.96" stroke="#111" stroke-width="0.85"/>
<line x1="313.70" y1="282.92" x2="315.70" y2="282.92" stroke="#111" stroke-width="0.85"/>
<line x1="313.70" y1="280.35" x2="315.70" y2="280.35" stroke="#111" stroke-width="0.85"/>
<line x1="313.70" y1="278.12" x2="315.70" y2="278.12" stroke="#111" stroke-width="0.85"/>
<line x1="313.70" y1="276.16" x2="315.70" y2="276.16" stroke="#111" stroke-width="0.85"/>
<line x1="312.70" y1="274.40" x2="315.70" y2="274.40" stroke="#111" stroke-width="0.85"/>
<line x1="313.70" y1="262.84" x2="315.70" y2="262.84" stroke="#111" stroke-width="0.85"/>
<line x1="313.70" y1="256.08" x2="315.70" y2="256.08" stroke="#111" stroke-width="0.85"/>
<line x1="313.70" y1="251.28" x2="315.70" y2="251.28" stroke="#111" stroke-width="0.85"/>
<line x1="313.70" y1="247.56" x2="315.70" y2="247.56" stroke="#111" stroke-width="0.85"/>
<line x1="313.70" y1="244.52" x2="315.70" y2="244.52" stroke="#111" stroke-width="0.85"/>
<line x1="313.70" y1="241.95" x2="315.70" y2="241.95" stroke="#111" stroke-width="0.85"/>
<line x1="313.70" y1="239.72" x2="315.70" y2="239.72" stroke="#111" stroke-width="0.85"/>
<line x1="313.70" y1="237.76" x2="315.70" y2="237.76" stroke="#111" stroke-width="0.85"/>
<line x1="312.70" y1="236.00" x2="315.70" y2="236.00" stroke="#111" stroke-width="0.85"/>
<line x1="313.70" y1="224.44" x2="315.70" y2="224.44" stroke="#111" stroke-width="0.85"/>
<line x1="313.70" y1="217.68" x2="315.70" y2="217.68" stroke="#111" stroke-width="0.85"/>
<line x1="313.70" y1="212.88" x2="315.70" y2="212.88" stroke="#111" stroke-width="0.85"/>
<line x1="313.70" y1="209.16" x2="315.70" y2="209.16" stroke="#111" stroke-width="0.85"/>
<line x1="313.70" y1="206.12" x2="315.70" y2="206.12" stroke="#111" stroke-width="0.85"/>
<line x1="313.70" y1="203.55" x2="315.70" y2="203.55" stroke="#111" stroke-width="0.85"/>
<line x1="313.70" y1="201.32" x2="315.70" y2="201.32" stroke="#111" stroke-width="0.85"/>
<line x1="313.70" y1="199.36" x2="315.70" y2="199.36" stroke="#111" stroke-width="0.85"/>
<line x1="312.70" y1="197.60" x2="315.70" y2="197.60" stroke="#111" stroke-width="0.85"/>
<text x="309.90" y="200.50" font-size="8.3" text-anchor="end" fill="#111">10</text>
<text x="309.90" y="238.90" font-size="8.3" text-anchor="end" fill="#111">1</text>
<text x="309.90" y="277.30" font-size="8.3" text-anchor="end" fill="#111">0.1</text>
<text x="309.90" y="315.70" font-size="8.3" text-anchor="end" fill="#111">0.01</text>
<line x1="315.50" y1="312.80" x2="315.50" y2="315.80" stroke="#111" stroke-width="1.0"/>
<text x="315.50" y="325.00" font-size="8.3" text-anchor="middle" fill="#111">0.0</text>
<line x1="402.25" y1="312.80" x2="402.25" y2="315.80" stroke="#111" stroke-width="1.0"/>
<text x="402.25" y="325.00" font-size="8.3" text-anchor="middle" fill="#111">0.5</text>
<line x1="489.00" y1="312.80" x2="489.00" y2="315.80" stroke="#111" stroke-width="1.0"/>
<text x="489.00" y="325.00" font-size="8.3" text-anchor="middle" fill="#111">1.0</text>
<text x="402.75" y="336.00" font-size="8.8" text-anchor="middle" fill="#111">Fraction affected</text>
<text x="290.40" y="255.30" font-size="8.8" text-anchor="middle" fill="#111" transform="rotate(-90 290.40 255.30)">Combination index</text>
<polyline points="318.10,197.60 318.45,198.10 318.87,198.73 319.36,199.47 319.91,200.31 320.52,201.21 321.18,202.17 321.88,203.15 322.62,204.14 323.39,205.11 324.18,206.05 324.95,206.97 325.68,207.90 326.42,208.86 327.18,209.82 328.00,210.80 328.91,211.78 329.94,212.78 331.13,213.78 332.49,214.79 334.06,215.80 335.87,216.84 337.88,217.91 340.07,219.01 342.40,220.12 344.86,221.23 347.42,222.32 350.04,223.38 352.69,224.41 355.36,225.38 358.01,226.28 360.75,227.13 363.67,227.95 366.72,228.73 369.83,229.47 372.95,230.18 376.02,230.85 378.98,231.48 381.78,232.06 384.35,232.61 386.63,233.12 388.62,233.57 390.34,233.95 391.85,234.28 393.20,234.56 394.43,234.81 395.60,235.04 396.74,235.27 397.91,235.49 399.15,235.73 400.51,236.00 401.93,236.27 403.30,236.51 404.66,236.73 406.02,236.95 407.40,237.18 408.83,237.43 410.33,237.70 411.91,238.01 413.61,238.38 415.44,238.80 417.43,239.30 419.59,239.85 421.88,240.45 424.26,241.10 426.70,241.77 429.16,242.46 431.61,243.16 434.01,243.86 436.32,244.55 438.51,245.22 440.62,245.88 442.72,246.57 444.79,247.26 446.83,247.96 448.82,248.66 450.76,249.35 452.63,250.02 454.43,250.68 456.15,251.30 457.77,251.90 459.31,252.46 460.78,253.01 462.17,253.54 463.50,254.05 464.75,254.55 465.94,255.02 467.06,255.47 468.11,255.90 469.09,256.31 470.00,256.70 470.82,257.05 471.52,257.35 472.13,257.62 472.66,257.86 473.13,258.09 473.58,258.32 474.00,258.55 474.44,258.80 474.89,259.07 475.40,259.39 475.93,259.73 476.47,260.09 477.01,260.47 477.55,260.86 478.09,261.26 478.62,261.68 479.15,262.10 479.67,262.54 480.18,262.97 480.67,263.42 481.16,263.87 481.65,264.32 482.14,264.79 482.62,265.26 483.09,265.75 483.54,266.24 483.99,266.74 484.41,267.25 484.81,267.77 485.18,268.29 485.54,268.84 485.88,269.40 486.20,269.98 486.51,270.57 486.80,271.16 487.07,271.76 487.32,272.35 487.54,272.94 487.74,273.52 487.91,274.09 488.04,274.61 488.14,275.05 488.20,275.44 488.24,275.82 488.26,276.22 488.27,276.66 488.27,277.18 488.27,277.81 488.28,278.58 488.31,279.51 488.34,280.69 488.38,282.15 488.41,283.80 488.45,285.57 488.48,287.39 488.51,289.18 488.54,290.88 488.56,292.39 488.58,293.66 488.60,294.60" fill="none" stroke="#3d3064" stroke-width="1.5" stroke-dasharray="3.3,2.0" stroke-linejoin="round"/>
<rect x="324.50" y="271.00" width="74.00" height="8.80" fill="#cdcdcd" stroke="#222" stroke-width="1"/>
<text x="326.70" y="278.30" font-size="7.8" text-anchor="start" font-weight="bold" fill="#111">Combination Index</text>
<rect x="324.50" y="279.80" width="74.00" height="8.90" fill="white" stroke="#222" stroke-width="1"/>
<rect x="398.50" y="279.80" width="44.00" height="8.90" fill="white" stroke="#222" stroke-width="1"/>
<text x="361.50" y="287.20" font-size="7.8" text-anchor="middle" fill="#111">&lt;1</text>
<text x="420.50" y="287.20" font-size="7.8" text-anchor="middle" fill="#111">Synergy</text>
<rect x="324.50" y="288.70" width="74.00" height="8.90" fill="white" stroke="#222" stroke-width="1"/>
<rect x="398.50" y="288.70" width="44.00" height="8.90" fill="white" stroke="#222" stroke-width="1"/>
<text x="361.50" y="296.10" font-size="7.8" text-anchor="middle" fill="#111">1</text>
<text x="420.50" y="296.10" font-size="7.8" text-anchor="middle" fill="#111">Additive</text>
<rect x="324.50" y="297.60" width="74.00" height="8.90" fill="white" stroke="#222" stroke-width="1"/>
<rect x="398.50" y="297.60" width="44.00" height="8.90" fill="white" stroke="#222" stroke-width="1"/>
<text x="361.50" y="305.00" font-size="7.8" text-anchor="middle" fill="#111">&gt;1</text>
<text x="420.50" y="305.00" font-size="7.8" text-anchor="middle" fill="#111">Antagonism</text>
<polygon points="333.72,213.38 336.01,215.05 335.14,217.75 332.30,217.75 331.42,215.05" fill="#43236f"/>
<polygon points="336.32,234.13 338.62,235.80 337.74,238.50 334.90,238.50 334.02,235.80" fill="#43236f"/>
<polygon points="415.26,236.19 417.56,237.86 416.68,240.56 413.84,240.56 412.97,237.86" fill="#43236f"/>
<polygon points="487.00,279.96 489.30,281.63 488.42,284.33 485.59,284.33 484.71,281.63" fill="#43236f"/>
<polygon points="487.26,283.42 489.56,285.09 488.68,287.79 485.85,287.79 484.97,285.09" fill="#43236f"/>
<line x1="488.76" y1="295.90" x2="488.76" y2="312.80" stroke="#3d3064" stroke-width="0.9"/>
<line x1="487.06" y1="295.90" x2="490.46" y2="295.90" stroke="#3d3064" stroke-width="0.9"/>
<line x1="487.06" y1="312.80" x2="490.46" y2="312.80" stroke="#3d3064" stroke-width="0.9"/>
<polygon points="488.76,310.69 491.05,312.35 490.18,315.05 487.34,315.05 486.46,312.35" fill="#43236f"/>
<line x1="52.50" y1="368.80" x2="52.50" y2="485.10" stroke="#111" stroke-width="1.2"/>
<line x1="52.00" y1="484.60" x2="226.20" y2="484.60" stroke="#111" stroke-width="1.2"/>
<line x1="49.50" y1="484.60" x2="52.50" y2="484.60" stroke="#111" stroke-width="1.0"/>
<text x="46.50" y="487.50" font-size="8.3" text-anchor="end" fill="#111">0</text>
<line x1="49.50" y1="460.65" x2="52.50" y2="460.65" stroke="#111" stroke-width="1.0"/>
<text x="46.50" y="463.55" font-size="8.3" text-anchor="end" fill="#111">250</text>
<line x1="49.50" y1="436.70" x2="52.50" y2="436.70" stroke="#111" stroke-width="1.0"/>
<text x="46.50" y="439.60" font-size="8.3" text-anchor="end" fill="#111">500</text>
<line x1="49.50" y1="412.75" x2="52.50" y2="412.75" stroke="#111" stroke-width="1.0"/>
<text x="46.50" y="415.65" font-size="8.3" text-anchor="end" fill="#111">750</text>
<line x1="49.50" y1="388.80" x2="52.50" y2="388.80" stroke="#111" stroke-width="1.0"/>
<text x="46.50" y="391.70" font-size="8.3" text-anchor="end" fill="#111">1000</text>
<line x1="52.60" y1="484.60" x2="52.60" y2="487.20" stroke="#111" stroke-width="0.85"/>
<line x1="64.13" y1="484.60" x2="64.13" y2="486.81" stroke="#111" stroke-width="0.85"/>
<line x1="70.87" y1="484.60" x2="70.87" y2="486.81" stroke="#111" stroke-width="0.85"/>
<line x1="75.66" y1="484.60" x2="75.66" y2="486.81" stroke="#111" stroke-width="0.85"/>
<line x1="79.37" y1="484.60" x2="79.37" y2="486.81" stroke="#111" stroke-width="0.85"/>
<line x1="82.40" y1="484.60" x2="82.40" y2="486.81" stroke="#111" stroke-width="0.85"/>
<line x1="84.97" y1="484.60" x2="84.97" y2="486.81" stroke="#111" stroke-width="0.85"/>
<line x1="87.19" y1="484.60" x2="87.19" y2="486.81" stroke="#111" stroke-width="0.85"/>
<line x1="89.15" y1="484.60" x2="89.15" y2="486.81" stroke="#111" stroke-width="0.85"/>
<line x1="90.90" y1="484.60" x2="90.90" y2="487.20" stroke="#111" stroke-width="0.85"/>
<line x1="102.43" y1="484.60" x2="102.43" y2="486.81" stroke="#111" stroke-width="0.85"/>
<line x1="109.17" y1="484.60" x2="109.17" y2="486.81" stroke="#111" stroke-width="0.85"/>
<line x1="113.96" y1="484.60" x2="113.96" y2="486.81" stroke="#111" stroke-width="0.85"/>
<line x1="117.67" y1="484.60" x2="117.67" y2="486.81" stroke="#111" stroke-width="0.85"/>
<line x1="120.70" y1="484.60" x2="120.70" y2="486.81" stroke="#111" stroke-width="0.85"/>
<line x1="123.27" y1="484.60" x2="123.27" y2="486.81" stroke="#111" stroke-width="0.85"/>
<line x1="125.49" y1="484.60" x2="125.49" y2="486.81" stroke="#111" stroke-width="0.85"/>
<line x1="127.45" y1="484.60" x2="127.45" y2="486.81" stroke="#111" stroke-width="0.85"/>
<line x1="129.20" y1="484.60" x2="129.20" y2="487.20" stroke="#111" stroke-width="0.85"/>
<line x1="140.73" y1="484.60" x2="140.73" y2="486.81" stroke="#111" stroke-width="0.85"/>
<line x1="147.47" y1="484.60" x2="147.47" y2="486.81" stroke="#111" stroke-width="0.85"/>
<line x1="152.26" y1="484.60" x2="152.26" y2="486.81" stroke="#111" stroke-width="0.85"/>
<line x1="155.97" y1="484.60" x2="155.97" y2="486.81" stroke="#111" stroke-width="0.85"/>
<line x1="159.00" y1="484.60" x2="159.00" y2="486.81" stroke="#111" stroke-width="0.85"/>
<line x1="161.57" y1="484.60" x2="161.57" y2="486.81" stroke="#111" stroke-width="0.85"/>
<line x1="163.79" y1="484.60" x2="163.79" y2="486.81" stroke="#111" stroke-width="0.85"/>
<line x1="165.75" y1="484.60" x2="165.75" y2="486.81" stroke="#111" stroke-width="0.85"/>
<line x1="167.50" y1="484.60" x2="167.50" y2="487.20" stroke="#111" stroke-width="0.85"/>
<line x1="179.03" y1="484.60" x2="179.03" y2="486.81" stroke="#111" stroke-width="0.85"/>
<line x1="185.77" y1="484.60" x2="185.77" y2="486.81" stroke="#111" stroke-width="0.85"/>
<line x1="190.56" y1="484.60" x2="190.56" y2="486.81" stroke="#111" stroke-width="0.85"/>
<line x1="194.27" y1="484.60" x2="194.27" y2="486.81" stroke="#111" stroke-width="0.85"/>
<line x1="197.30" y1="484.60" x2="197.30" y2="486.81" stroke="#111" stroke-width="0.85"/>
<line x1="199.87" y1="484.60" x2="199.87" y2="486.81" stroke="#111" stroke-width="0.85"/>
<line x1="202.09" y1="484.60" x2="202.09" y2="486.81" stroke="#111" stroke-width="0.85"/>
<line x1="204.05" y1="484.60" x2="204.05" y2="486.81" stroke="#111" stroke-width="0.85"/>
<line x1="205.80" y1="484.60" x2="205.80" y2="487.20" stroke="#111" stroke-width="0.85"/>
<line x1="217.33" y1="484.60" x2="217.33" y2="486.81" stroke="#111" stroke-width="0.85"/>
<line x1="224.07" y1="484.60" x2="224.07" y2="486.81" stroke="#111" stroke-width="0.85"/>
<text x="90.90" y="497.20" font-size="8.3" text-anchor="middle" fill="#111">10</text>
<text x="90.90" y="509.00" font-size="8.3" text-anchor="middle" fill="#111">100</text>
<text x="129.20" y="497.20" font-size="8.3" text-anchor="middle" fill="#111">100</text>
<text x="129.20" y="509.00" font-size="8.3" text-anchor="middle" fill="#111">1000</text>
<text x="167.50" y="497.20" font-size="8.3" text-anchor="middle" fill="#111">1000</text>
<text x="167.50" y="509.00" font-size="8.3" text-anchor="middle" fill="#111">10000</text>
<text x="186.00" y="497.20" font-size="8.25" text-anchor="start" fill="#111">Venetoclax [nM]</text>
<text x="186.00" y="509.00" font-size="8.25" text-anchor="start" fill="#111">Vorinostat [nM]</text>
<text x="22.40" y="428.80" font-size="8.9" text-anchor="middle" fill="#111" transform="rotate(-90 22.40 428.80)">Caspase 3/7 activity (% control)</text>
<polyline points="52.60,475.31 54.97,475.30 58.13,475.30 61.91,475.30 66.12,475.30 70.61,475.30 75.18,475.30 79.68,475.29 83.91,475.27 87.71,475.24 90.90,475.21 93.53,475.18 95.81,475.15 97.80,475.12 99.57,475.09 101.18,475.05 102.70,475.00 104.19,474.92 105.73,474.83 107.37,474.70 109.17,474.54 111.15,474.35 113.23,474.14 115.38,473.90 117.56,473.64 119.73,473.36 121.86,473.06 123.91,472.74 125.84,472.40 127.61,472.04 129.20,471.67 130.59,471.28 131.80,470.88 132.88,470.47 133.84,470.04 134.72,469.58 135.53,469.11 136.32,468.60 137.11,468.06 137.91,467.49 138.78,466.88 139.65,466.27 140.50,465.68 141.32,465.10 142.12,464.49 142.92,463.84 143.72,463.12 144.53,462.30 145.37,461.36 146.23,460.27 147.12,459.02 148.06,457.58 149.02,455.96 150.00,454.20 151.00,452.32 152.02,450.34 153.04,448.29 154.07,446.21 155.11,444.10 156.14,442.01 157.16,439.96 158.23,437.81 159.37,435.48 160.56,433.02 161.77,430.52 162.96,428.04 164.09,425.65 165.15,423.43 166.09,421.45 166.88,419.79 167.50,418.50" fill="none" stroke="#8ebf66" stroke-width="1.1" stroke-dasharray="3,1.6" stroke-linejoin="round"/>
<polyline points="52.60,475.79 53.37,475.79 54.13,475.79 54.90,475.79 55.66,475.79 56.43,475.79 57.20,475.79 57.96,475.79 58.73,475.79 59.49,475.79 60.26,475.79 61.03,475.79 61.79,475.79 62.56,475.79 63.32,475.79 64.09,475.79 64.86,475.79 65.62,475.79 66.39,475.79 67.15,475.79 67.92,475.79 68.69,475.79 69.45,475.79 70.22,475.79 70.98,475.79 71.75,475.79 72.52,475.79 73.28,475.79 74.05,475.79 74.81,475.79 75.58,475.79 76.35,475.79 77.11,475.79 77.88,475.79 78.64,475.79 79.41,475.79 80.18,475.79 80.94,475.79 81.71,475.79 82.47,475.79 83.24,475.79 84.01,475.79 84.77,475.79 85.54,475.79 86.30,475.79 87.07,475.79 87.84,475.79 88.60,475.79 89.37,475.79 90.13,475.79 90.90,475.79 91.67,475.79 92.43,475.79 93.20,475.79 93.96,475.79 94.73,475.79 95.50,475.79 96.26,475.79 97.03,475.79 97.79,475.79 98.56,475.79 99.33,475.79 100.09,475.79 100.86,475.79 101.62,475.79 102.39,475.79 103.16,475.79 103.92,475.79 104.69,475.79 105.45,475.79 106.22,475.79 106.99,475.79 107.75,475.79 108.52,475.79 109.28,475.79 110.05,475.79 110.82,475.79 111.58,475.79 112.35,475.79 113.11,475.79 113.88,475.79 114.65,475.79 115.41,475.79 116.18,475.79 116.94,475.79 117.71,475.79 118.48,475.79 119.24,475.79 120.01,475.79 120.77,475.79 121.54,475.79 122.31,475.79 123.07,475.79 123.84,475.79 124.60,475.79 125.37,475.79 126.14,475.79 126.90,475.79 127.67,475.79 128.43,475.79 129.20,475.79 129.97,475.79 130.73,475.79 131.50,475.79 132.26,475.79 133.03,475.79 133.80,475.79 134.56,475.79 135.33,475.79 136.09,475.79 136.86,475.79 137.63,475.79 138.39,475.79 139.16,475.78 139.92,475.77 140.69,475.72 141.46,475.56 142.22,475.01 142.99,473.46 143.75,470.59 144.52,467.92 145.29,466.63 146.05,466.19 146.82,466.06 147.58,466.03 148.35,466.02 149.12,466.02 149.88,466.02 150.65,466.01 151.41,466.01 152.18,466.01 152.95,466.01 153.71,466.01 154.48,466.01 155.24,466.01 156.01,466.01 156.78,466.01 157.54,466.01 158.31,466.01 159.07,466.01 159.84,466.01 160.61,466.01 161.37,466.01 162.14,466.01 162.90,466.01 163.67,466.01 164.44,466.01 165.20,466.01 165.97,466.01 166.73,466.01 167.50,466.01" fill="none" stroke="#c25670" stroke-width="1.0" stroke-linejoin="round"/>
<polyline points="52.60,474.54 53.74,474.52 55.20,474.49 56.94,474.47 58.88,474.43 60.98,474.40 63.17,474.35 65.40,474.30 67.61,474.23 69.75,474.15 71.75,474.06 73.67,473.97 75.59,473.88 77.52,473.79 79.45,473.69 81.38,473.58 83.30,473.44 85.22,473.28 87.13,473.07 89.02,472.83 90.90,472.53 92.75,472.17 94.58,471.75 96.39,471.29 98.19,470.78 99.98,470.25 101.78,469.71 103.59,469.15 105.42,468.60 107.28,468.06 109.17,467.55 111.11,467.06 113.09,466.57 115.11,466.10 117.14,465.62 119.19,465.14 121.23,464.66 123.27,464.16 125.28,463.65 127.26,463.12 129.20,462.57 131.09,462.01 132.94,461.45 134.75,460.90 136.55,460.33 138.33,459.75 140.12,459.13 141.91,458.49 143.73,457.79 145.58,457.05 147.47,456.24 149.49,455.32 151.68,454.25 153.98,453.08 156.32,451.86 158.63,450.63 160.85,449.42 162.91,448.30 164.75,447.29 166.30,446.44 167.50,445.80" fill="none" stroke="#1f2b4a" stroke-width="1.4" stroke-dasharray="4,1.3" stroke-linejoin="round"/>
<line x1="129.20" y1="470.33" x2="129.20" y2="473.20" stroke="#78b043" stroke-width="0.9"/>
<line x1="127.40" y1="470.33" x2="131.00" y2="470.33" stroke="#78b043" stroke-width="0.9"/>
<line x1="127.40" y1="473.20" x2="131.00" y2="473.20" stroke="#78b043" stroke-width="0.9"/>
<line x1="147.47" y1="456.82" x2="147.47" y2="460.65" stroke="#78b043" stroke-width="0.9"/>
<line x1="145.67" y1="456.82" x2="149.27" y2="456.82" stroke="#78b043" stroke-width="0.9"/>
<line x1="145.67" y1="460.65" x2="149.27" y2="460.65" stroke="#78b043" stroke-width="0.9"/>
<line x1="167.50" y1="414.67" x2="167.50" y2="422.33" stroke="#78b043" stroke-width="0.9"/>
<line x1="165.70" y1="414.67" x2="169.30" y2="414.67" stroke="#78b043" stroke-width="0.9"/>
<line x1="165.70" y1="422.33" x2="169.30" y2="422.33" stroke="#78b043" stroke-width="0.9"/>
<polygon points="90.90,472.29 88.37,476.84 93.43,476.84" fill="#78b043"/>
<polygon points="109.17,472.29 106.64,476.84 111.70,476.84" fill="#78b043"/>
<polygon points="129.20,469.03 126.67,473.58 131.73,473.58" fill="#78b043"/>
<polygon points="147.47,456.00 144.94,460.56 150.00,460.56" fill="#78b043"/>
<polygon points="167.50,415.77 164.97,420.32 170.03,420.32" fill="#78b043"/>
<line x1="90.90" y1="474.06" x2="90.90" y2="476.94" stroke="#a50f30" stroke-width="0.9"/>
<line x1="89.10" y1="474.06" x2="92.70" y2="474.06" stroke="#a50f30" stroke-width="0.9"/>
<line x1="89.10" y1="476.94" x2="92.70" y2="476.94" stroke="#a50f30" stroke-width="0.9"/>
<line x1="109.17" y1="474.83" x2="109.17" y2="477.13" stroke="#a50f30" stroke-width="0.9"/>
<line x1="107.37" y1="474.83" x2="110.97" y2="474.83" stroke="#a50f30" stroke-width="0.9"/>
<line x1="107.37" y1="477.13" x2="110.97" y2="477.13" stroke="#a50f30" stroke-width="0.9"/>
<line x1="129.20" y1="473.58" x2="129.20" y2="476.46" stroke="#a50f30" stroke-width="0.9"/>
<line x1="127.40" y1="473.58" x2="131.00" y2="473.58" stroke="#a50f30" stroke-width="0.9"/>
<line x1="127.40" y1="476.46" x2="131.00" y2="476.46" stroke="#a50f30" stroke-width="0.9"/>
<line x1="147.47" y1="467.64" x2="147.47" y2="472.43" stroke="#a50f30" stroke-width="0.9"/>
<line x1="145.67" y1="467.64" x2="149.27" y2="467.64" stroke="#a50f30" stroke-width="0.9"/>
<line x1="145.67" y1="472.43" x2="149.27" y2="472.43" stroke="#a50f30" stroke-width="0.9"/>
<line x1="167.50" y1="463.05" x2="167.50" y2="467.84" stroke="#a50f30" stroke-width="0.9"/>
<line x1="165.70" y1="463.05" x2="169.30" y2="463.05" stroke="#a50f30" stroke-width="0.9"/>
<line x1="165.70" y1="467.84" x2="169.30" y2="467.84" stroke="#a50f30" stroke-width="0.9"/>
<rect x="88.72" y="473.31" width="4.369999999999999" height="4.369999999999999" fill="#a50f30"/>
<rect x="106.99" y="473.79" width="4.369999999999999" height="4.369999999999999" fill="#a50f30"/>
<rect x="127.01" y="472.84" width="4.369999999999999" height="4.369999999999999" fill="#a50f30"/>
<rect x="145.29" y="467.85" width="4.369999999999999" height="4.369999999999999" fill="#a50f30"/>
<rect x="165.31" y="463.25" width="4.369999999999999" height="4.369999999999999" fill="#a50f30"/>
<line x1="90.90" y1="471.67" x2="90.90" y2="473.58" stroke="#1d2e5c" stroke-width="0.9"/>
<line x1="89.10" y1="471.67" x2="92.70" y2="471.67" stroke="#1d2e5c" stroke-width="0.9"/>
<line x1="89.10" y1="473.58" x2="92.70" y2="473.58" stroke="#1d2e5c" stroke-width="0.9"/>
<line x1="109.17" y1="464.10" x2="109.17" y2="469.85" stroke="#1d2e5c" stroke-width="0.9"/>
<line x1="107.37" y1="464.10" x2="110.97" y2="464.10" stroke="#1d2e5c" stroke-width="0.9"/>
<line x1="107.37" y1="469.85" x2="110.97" y2="469.85" stroke="#1d2e5c" stroke-width="0.9"/>
<line x1="129.20" y1="460.36" x2="129.20" y2="466.11" stroke="#1d2e5c" stroke-width="0.9"/>
<line x1="127.40" y1="460.36" x2="131.00" y2="460.36" stroke="#1d2e5c" stroke-width="0.9"/>
<line x1="127.40" y1="466.11" x2="131.00" y2="466.11" stroke="#1d2e5c" stroke-width="0.9"/>
<line x1="147.47" y1="454.61" x2="147.47" y2="459.40" stroke="#1d2e5c" stroke-width="0.9"/>
<line x1="145.67" y1="454.61" x2="149.27" y2="454.61" stroke="#1d2e5c" stroke-width="0.9"/>
<line x1="145.67" y1="459.40" x2="149.27" y2="459.40" stroke="#1d2e5c" stroke-width="0.9"/>
<circle cx="90.90" cy="472.62" r="2.3" fill="#1d2e5c"/>
<circle cx="109.17" cy="466.97" r="2.3" fill="#1d2e5c"/>
<circle cx="129.20" cy="463.24" r="2.3" fill="#1d2e5c"/>
<circle cx="147.47" cy="457.01" r="2.3" fill="#1d2e5c"/>
<circle cx="167.50" cy="445.61" r="2.3" fill="#1d2e5c"/>
<line x1="60.30" y1="380.00" x2="68.70" y2="380.00" stroke="#1f2b4a" stroke-width="1.0" stroke-dasharray="2,1"/>
<circle cx="64.50" cy="380.00" r="2.1" fill="#1d2e5c"/>
<text x="70.50" y="382.40" font-size="6.7" text-anchor="start" fill="#111">Venetoclax</text>
<line x1="60.30" y1="388.70" x2="68.70" y2="388.70" stroke="#c25670" stroke-width="1.0"/>
<rect x="62.51" y="386.70" width="3.9899999999999998" height="3.9899999999999998" fill="#a50f30"/>
<text x="70.50" y="391.10" font-size="6.7" text-anchor="start" fill="#111">Vorinostat</text>
<line x1="60.30" y1="397.40" x2="68.70" y2="397.40" stroke="#8ebf66" stroke-width="1.0" stroke-dasharray="2,1"/>
<polygon points="64.50,394.91 62.19,399.06 66.81,399.06" fill="#78b043"/>
<text x="70.50" y="399.80" font-size="6.7" text-anchor="start" fill="#111">ABT-199 + Vorinostat 1:10</text>
<line x1="316.20" y1="369.20" x2="316.20" y2="485.30" stroke="#111" stroke-width="1.2"/>
<line x1="315.70" y1="484.80" x2="492.50" y2="484.80" stroke="#111" stroke-width="1.2"/>
<line x1="313.20" y1="484.80" x2="316.20" y2="484.80" stroke="#111" stroke-width="1.0"/>
<text x="310.20" y="487.70" font-size="8.3" text-anchor="end" fill="#111">0</text>
<line x1="313.20" y1="460.85" x2="316.20" y2="460.85" stroke="#111" stroke-width="1.0"/>
<text x="310.20" y="463.75" font-size="8.3" text-anchor="end" fill="#111">250</text>
<line x1="313.20" y1="436.90" x2="316.20" y2="436.90" stroke="#111" stroke-width="1.0"/>
<text x="310.20" y="439.80" font-size="8.3" text-anchor="end" fill="#111">500</text>
<line x1="313.20" y1="412.95" x2="316.20" y2="412.95" stroke="#111" stroke-width="1.0"/>
<text x="310.20" y="415.85" font-size="8.3" text-anchor="end" fill="#111">750</text>
<line x1="313.20" y1="389.00" x2="316.20" y2="389.00" stroke="#111" stroke-width="1.0"/>
<text x="310.20" y="391.90" font-size="8.3" text-anchor="end" fill="#111">1000</text>
<line x1="315.90" y1="484.80" x2="315.90" y2="487.40" stroke="#111" stroke-width="0.85"/>
<line x1="327.53" y1="484.80" x2="327.53" y2="487.01" stroke="#111" stroke-width="0.85"/>
<line x1="334.34" y1="484.80" x2="334.34" y2="487.01" stroke="#111" stroke-width="0.85"/>
<line x1="339.17" y1="484.80" x2="339.17" y2="487.01" stroke="#111" stroke-width="0.85"/>
<line x1="342.92" y1="484.80" x2="342.92" y2="487.01" stroke="#111" stroke-width="0.85"/>
<line x1="345.98" y1="484.80" x2="345.98" y2="487.01" stroke="#111" stroke-width="0.85"/>
<line x1="348.56" y1="484.80" x2="348.56" y2="487.01" stroke="#111" stroke-width="0.85"/>
<line x1="350.80" y1="484.80" x2="350.80" y2="487.01" stroke="#111" stroke-width="0.85"/>
<line x1="352.78" y1="484.80" x2="352.78" y2="487.01" stroke="#111" stroke-width="0.85"/>
<line x1="354.55" y1="484.80" x2="354.55" y2="487.40" stroke="#111" stroke-width="0.85"/>
<line x1="366.18" y1="484.80" x2="366.18" y2="487.01" stroke="#111" stroke-width="0.85"/>
<line x1="372.99" y1="484.80" x2="372.99" y2="487.01" stroke="#111" stroke-width="0.85"/>
<line x1="377.82" y1="484.80" x2="377.82" y2="487.01" stroke="#111" stroke-width="0.85"/>
<line x1="381.57" y1="484.80" x2="381.57" y2="487.01" stroke="#111" stroke-width="0.85"/>
<line x1="384.63" y1="484.80" x2="384.63" y2="487.01" stroke="#111" stroke-width="0.85"/>
<line x1="387.21" y1="484.80" x2="387.21" y2="487.01" stroke="#111" stroke-width="0.85"/>
<line x1="389.45" y1="484.80" x2="389.45" y2="487.01" stroke="#111" stroke-width="0.85"/>
<line x1="391.43" y1="484.80" x2="391.43" y2="487.01" stroke="#111" stroke-width="0.85"/>
<line x1="393.20" y1="484.80" x2="393.20" y2="487.40" stroke="#111" stroke-width="0.85"/>
<line x1="404.83" y1="484.80" x2="404.83" y2="487.01" stroke="#111" stroke-width="0.85"/>
<line x1="411.64" y1="484.80" x2="411.64" y2="487.01" stroke="#111" stroke-width="0.85"/>
<line x1="416.47" y1="484.80" x2="416.47" y2="487.01" stroke="#111" stroke-width="0.85"/>
<line x1="420.22" y1="484.80" x2="420.22" y2="487.01" stroke="#111" stroke-width="0.85"/>
<line x1="423.28" y1="484.80" x2="423.28" y2="487.01" stroke="#111" stroke-width="0.85"/>
<line x1="425.86" y1="484.80" x2="425.86" y2="487.01" stroke="#111" stroke-width="0.85"/>
<line x1="428.10" y1="484.80" x2="428.10" y2="487.01" stroke="#111" stroke-width="0.85"/>
<line x1="430.08" y1="484.80" x2="430.08" y2="487.01" stroke="#111" stroke-width="0.85"/>
<line x1="431.85" y1="484.80" x2="431.85" y2="487.40" stroke="#111" stroke-width="0.85"/>
<line x1="443.48" y1="484.80" x2="443.48" y2="487.01" stroke="#111" stroke-width="0.85"/>
<line x1="450.29" y1="484.80" x2="450.29" y2="487.01" stroke="#111" stroke-width="0.85"/>
<line x1="455.12" y1="484.80" x2="455.12" y2="487.01" stroke="#111" stroke-width="0.85"/>
<line x1="458.87" y1="484.80" x2="458.87" y2="487.01" stroke="#111" stroke-width="0.85"/>
<line x1="461.93" y1="484.80" x2="461.93" y2="487.01" stroke="#111" stroke-width="0.85"/>
<line x1="464.51" y1="484.80" x2="464.51" y2="487.01" stroke="#111" stroke-width="0.85"/>
<line x1="466.75" y1="484.80" x2="466.75" y2="487.01" stroke="#111" stroke-width="0.85"/>
<line x1="468.73" y1="484.80" x2="468.73" y2="487.01" stroke="#111" stroke-width="0.85"/>
<line x1="470.50" y1="484.80" x2="470.50" y2="487.40" stroke="#111" stroke-width="0.85"/>
<line x1="482.13" y1="484.80" x2="482.13" y2="487.01" stroke="#111" stroke-width="0.85"/>
<line x1="488.94" y1="484.80" x2="488.94" y2="487.01" stroke="#111" stroke-width="0.85"/>
<text x="354.55" y="497.20" font-size="8.3" text-anchor="middle" fill="#111">10</text>
<text x="354.55" y="509.00" font-size="8.3" text-anchor="middle" fill="#111">0.1</text>
<text x="393.20" y="497.20" font-size="8.3" text-anchor="middle" fill="#111">100</text>
<text x="393.20" y="509.00" font-size="8.3" text-anchor="middle" fill="#111">1</text>
<text x="431.85" y="497.20" font-size="8.3" text-anchor="middle" fill="#111">1000</text>
<text x="431.85" y="509.00" font-size="8.3" text-anchor="middle" fill="#111">10</text>
<text x="450.20" y="497.20" font-size="8.25" text-anchor="start" fill="#111">Venetoclax [nM]</text>
<text x="451.90" y="509.00" font-size="8.25" text-anchor="start" fill="#111">Romidepsin [nM]</text>
<text x="285.50" y="428.80" font-size="8.9" text-anchor="middle" fill="#111" transform="rotate(-90 285.50 428.80)">Caspase 3/7 activity (% control)</text>
<polyline points="315.90,474.74 318.29,474.74 321.48,474.74 325.29,474.74 329.55,474.75 334.07,474.75 338.69,474.74 343.22,474.73 347.49,474.71 351.33,474.69 354.55,474.65 357.20,474.60 359.50,474.56 361.51,474.51 363.30,474.46 364.92,474.39 366.46,474.32 367.97,474.22 369.51,474.10 371.17,473.96 372.99,473.78 374.95,473.59 376.95,473.40 378.98,473.19 381.03,472.97 383.10,472.72 385.16,472.43 387.21,472.11 389.24,471.74 391.24,471.31 393.20,470.81 395.17,470.27 397.19,469.68 399.23,469.05 401.27,468.37 403.26,467.65 405.19,466.88 407.02,466.05 408.73,465.18 410.28,464.24 411.64,463.25 412.79,462.18 413.75,461.04 414.56,459.83 415.24,458.57 415.82,457.26 416.33,455.92 416.81,454.54 417.28,453.14 417.77,451.73 418.32,450.31 418.88,448.95 419.38,447.64 419.84,446.37 420.28,445.09 420.72,443.76 421.17,442.33 421.64,440.78 422.15,439.07 422.71,437.15 423.35,434.98 424.09,432.40 424.96,429.34 425.91,425.95 426.91,422.35 427.91,418.70 428.89,415.12 429.81,411.75 430.64,408.74 431.33,406.22 431.85,404.33" fill="none" stroke="#8ebf66" stroke-width="1.1" stroke-dasharray="3,1.6" stroke-linejoin="round"/>
<polyline points="315.90,474.74 316.67,474.74 317.45,474.74 318.22,474.74 318.99,474.74 319.76,474.74 320.54,474.74 321.31,474.74 322.08,474.74 322.86,474.74 323.63,474.74 324.40,474.74 325.18,474.74 325.95,474.74 326.72,474.74 327.50,474.74 328.27,474.74 329.04,474.74 329.81,474.74 330.59,474.74 331.36,474.74 332.13,474.74 332.91,474.74 333.68,474.74 334.45,474.74 335.22,474.74 336.00,474.74 336.77,474.74 337.54,474.74 338.32,474.74 339.09,474.74 339.86,474.74 340.64,474.74 341.41,474.74 342.18,474.74 342.95,474.74 343.73,474.74 344.50,474.74 345.27,474.74 346.05,474.74 346.82,474.74 347.59,474.74 348.37,474.74 349.14,474.74 349.91,474.74 350.68,474.74 351.46,474.74 352.23,474.74 353.00,474.74 353.78,474.74 354.55,474.74 355.32,474.74 356.10,474.74 356.87,474.74 357.64,474.74 358.41,474.74 359.19,474.74 359.96,474.74 360.73,474.74 361.51,474.74 362.28,474.74 363.05,474.74 363.83,474.74 364.60,474.74 365.37,474.74 366.14,474.74 366.92,474.74 367.69,474.74 368.46,474.74 369.24,474.74 370.01,474.74 370.78,474.74 371.56,474.74 372.33,474.74 373.10,474.74 373.88,474.74 374.65,474.74 375.42,474.74 376.19,474.74 376.97,474.74 377.74,474.74 378.51,474.74 379.29,474.74 380.06,474.74 380.83,474.74 381.60,474.74 382.38,474.74 383.15,474.74 383.92,474.74 384.70,474.74 385.47,474.74 386.24,474.74 387.02,474.74 387.79,474.74 388.56,474.74 389.33,474.74 390.11,474.74 390.88,474.74 391.65,474.74 392.43,474.74 393.20,474.74 393.97,474.74 394.75,474.74 395.52,474.74 396.29,474.74 397.06,474.74 397.84,474.74 398.61,474.74 399.38,474.74 400.16,474.74 400.93,474.74 401.70,474.74 402.48,474.74 403.25,474.74 404.02,474.74 404.79,474.74 405.57,474.74 406.34,474.74 407.11,474.74 407.89,474.74 408.66,474.74 409.43,474.74 410.21,474.74 410.98,474.74 411.75,474.74 412.52,474.74 413.30,474.74 414.07,474.74 414.84,474.74 415.62,474.74 416.39,474.74 417.16,474.74 417.94,474.74 418.71,474.74 419.48,474.74 420.25,474.74 421.03,474.74 421.80,474.74 422.57,474.74 423.35,474.74 424.12,474.73 424.89,474.70 425.67,474.64 426.44,474.47 427.21,474.02 427.98,472.90 428.76,470.53 429.53,466.84 430.30,463.14 431.08,460.78 431.85,459.66" fill="none" stroke="#c25670" stroke-width="1.0" stroke-linejoin="round"/>
<polyline points="315.90,474.26 318.29,474.21 321.48,474.15 325.29,474.09 329.55,474.02 334.07,473.93 338.69,473.83 343.22,473.70 347.49,473.54 351.33,473.35 354.55,473.11 357.20,472.84 359.50,472.54 361.51,472.20 363.30,471.84 364.92,471.45 366.46,471.03 367.97,470.60 369.51,470.14 371.17,469.67 372.99,469.18 374.95,468.67 376.95,468.13 378.98,467.56 381.03,466.97 383.10,466.36 385.16,465.74 387.21,465.12 389.24,464.49 391.24,463.86 393.20,463.25 395.11,462.65 396.97,462.10 398.81,461.56 400.62,461.03 402.42,460.48 404.22,459.90 406.03,459.27 407.86,458.57 409.73,457.80 411.64,456.92 413.68,455.88 415.89,454.65 418.21,453.29 420.56,451.86 422.90,450.40 425.13,448.97 427.22,447.62 429.07,446.42 430.64,445.42 431.85,444.66" fill="none" stroke="#1f2b4a" stroke-width="1.4" stroke-dasharray="4,1.3" stroke-linejoin="round"/>
<line x1="393.20" y1="469.47" x2="393.20" y2="472.35" stroke="#78b043" stroke-width="0.9"/>
<line x1="391.40" y1="469.47" x2="395.00" y2="469.47" stroke="#78b043" stroke-width="0.9"/>
<line x1="391.40" y1="472.35" x2="395.00" y2="472.35" stroke="#78b043" stroke-width="0.9"/>
<line x1="411.64" y1="461.81" x2="411.64" y2="467.56" stroke="#78b043" stroke-width="0.9"/>
<line x1="409.84" y1="461.81" x2="413.44" y2="461.81" stroke="#78b043" stroke-width="0.9"/>
<line x1="409.84" y1="467.56" x2="413.44" y2="467.56" stroke="#78b043" stroke-width="0.9"/>
<line x1="431.85" y1="389.57" x2="431.85" y2="420.23" stroke="#78b043" stroke-width="0.9"/>
<line x1="430.05" y1="389.57" x2="433.65" y2="389.57" stroke="#78b043" stroke-width="0.9"/>
<line x1="430.05" y1="420.23" x2="433.65" y2="420.23" stroke="#78b043" stroke-width="0.9"/>
<polygon points="354.55,471.53 352.02,476.08 357.08,476.08" fill="#78b043"/>
<polygon points="372.99,469.61 370.46,474.17 375.52,474.17" fill="#78b043"/>
<polygon points="393.20,468.18 390.67,472.73 395.73,472.73" fill="#78b043"/>
<polygon points="411.64,461.95 409.11,466.50 414.17,466.50" fill="#78b043"/>
<polygon points="431.85,402.17 429.32,406.72 434.38,406.72" fill="#78b043"/>
<line x1="354.55" y1="473.78" x2="354.55" y2="475.70" stroke="#a50f30" stroke-width="0.9"/>
<line x1="352.75" y1="473.78" x2="356.35" y2="473.78" stroke="#a50f30" stroke-width="0.9"/>
<line x1="352.75" y1="475.70" x2="356.35" y2="475.70" stroke="#a50f30" stroke-width="0.9"/>
<line x1="372.99" y1="473.50" x2="372.99" y2="477.33" stroke="#a50f30" stroke-width="0.9"/>
<line x1="371.19" y1="473.50" x2="374.79" y2="473.50" stroke="#a50f30" stroke-width="0.9"/>
<line x1="371.19" y1="477.33" x2="374.79" y2="477.33" stroke="#a50f30" stroke-width="0.9"/>
<line x1="393.20" y1="473.50" x2="393.20" y2="476.37" stroke="#a50f30" stroke-width="0.9"/>
<line x1="391.40" y1="473.50" x2="395.00" y2="473.50" stroke="#a50f30" stroke-width="0.9"/>
<line x1="391.40" y1="476.37" x2="395.00" y2="476.37" stroke="#a50f30" stroke-width="0.9"/>
<line x1="411.64" y1="473.21" x2="411.64" y2="478.00" stroke="#a50f30" stroke-width="0.9"/>
<line x1="409.84" y1="473.21" x2="413.44" y2="473.21" stroke="#a50f30" stroke-width="0.9"/>
<line x1="409.84" y1="478.00" x2="413.44" y2="478.00" stroke="#a50f30" stroke-width="0.9"/>
<line x1="431.85" y1="457.98" x2="431.85" y2="462.77" stroke="#a50f30" stroke-width="0.9"/>
<line x1="430.05" y1="457.98" x2="433.65" y2="457.98" stroke="#a50f30" stroke-width="0.9"/>
<line x1="430.05" y1="462.77" x2="433.65" y2="462.77" stroke="#a50f30" stroke-width="0.9"/>
<rect x="352.36" y="472.56" width="4.369999999999999" height="4.369999999999999" fill="#a50f30"/>
<rect x="370.81" y="473.23" width="4.369999999999999" height="4.369999999999999" fill="#a50f30"/>
<rect x="391.01" y="472.75" width="4.369999999999999" height="4.369999999999999" fill="#a50f30"/>
<rect x="409.46" y="473.42" width="4.369999999999999" height="4.369999999999999" fill="#a50f30"/>
<rect x="429.66" y="458.19" width="4.369999999999999" height="4.369999999999999" fill="#a50f30"/>
<line x1="354.55" y1="473.30" x2="354.55" y2="475.22" stroke="#1d2e5c" stroke-width="0.9"/>
<line x1="352.75" y1="473.30" x2="356.35" y2="473.30" stroke="#1d2e5c" stroke-width="0.9"/>
<line x1="352.75" y1="475.22" x2="356.35" y2="475.22" stroke="#1d2e5c" stroke-width="0.9"/>
<line x1="372.99" y1="464.30" x2="372.99" y2="470.05" stroke="#1d2e5c" stroke-width="0.9"/>
<line x1="371.19" y1="464.30" x2="374.79" y2="464.30" stroke="#1d2e5c" stroke-width="0.9"/>
<line x1="371.19" y1="470.05" x2="374.79" y2="470.05" stroke="#1d2e5c" stroke-width="0.9"/>
<line x1="393.20" y1="460.56" x2="393.20" y2="466.31" stroke="#1d2e5c" stroke-width="0.9"/>
<line x1="391.40" y1="460.56" x2="395.00" y2="460.56" stroke="#1d2e5c" stroke-width="0.9"/>
<line x1="391.40" y1="466.31" x2="395.00" y2="466.31" stroke="#1d2e5c" stroke-width="0.9"/>
<line x1="411.64" y1="454.05" x2="411.64" y2="458.84" stroke="#1d2e5c" stroke-width="0.9"/>
<line x1="409.84" y1="454.05" x2="413.44" y2="454.05" stroke="#1d2e5c" stroke-width="0.9"/>
<line x1="409.84" y1="458.84" x2="413.44" y2="458.84" stroke="#1d2e5c" stroke-width="0.9"/>
<circle cx="354.55" cy="474.26" r="2.3" fill="#1d2e5c"/>
<circle cx="372.99" cy="467.17" r="2.3" fill="#1d2e5c"/>
<circle cx="393.20" cy="463.44" r="2.3" fill="#1d2e5c"/>
<circle cx="411.64" cy="456.44" r="2.3" fill="#1d2e5c"/>
<circle cx="431.85" cy="445.33" r="2.3" fill="#1d2e5c"/>
<line x1="322.40" y1="385.90" x2="330.80" y2="385.90" stroke="#1f2b4a" stroke-width="1.0" stroke-dasharray="2,1"/>
<circle cx="326.60" cy="385.90" r="2.1" fill="#1d2e5c"/>
<text x="332.60" y="388.30" font-size="6.7" text-anchor="start" fill="#111">Venetoclax</text>
<line x1="322.40" y1="394.35" x2="330.80" y2="394.35" stroke="#c25670" stroke-width="1.0"/>
<rect x="324.61" y="392.35" width="3.9899999999999998" height="3.9899999999999998" fill="#a50f30"/>
<text x="332.60" y="396.75" font-size="6.7" text-anchor="start" fill="#111">Romidepsin</text>
<line x1="322.40" y1="402.80" x2="330.80" y2="402.80" stroke="#8ebf66" stroke-width="1.0" stroke-dasharray="2,1"/>
<polygon points="326.60,400.31 324.29,404.46 328.91,404.46" fill="#78b043"/>
<text x="332.60" y="405.20" font-size="6.7" text-anchor="start" fill="#111">ABT-199 + Romidepsin 100:1</text>
<line x1="52.60" y1="544.40" x2="52.60" y2="661.50" stroke="#111" stroke-width="1.2"/>
<line x1="52.10" y1="661.00" x2="224.00" y2="661.00" stroke="#111" stroke-width="1.2"/>
<line x1="49.60" y1="661.00" x2="52.60" y2="661.00" stroke="#111" stroke-width="1.0"/>
<text x="47.20" y="663.90" font-size="8.4" text-anchor="end" fill="#111">0</text>
<line x1="49.60" y1="622.80" x2="52.60" y2="622.80" stroke="#111" stroke-width="1.0"/>
<text x="47.20" y="625.70" font-size="8.4" text-anchor="end" fill="#111">500</text>
<line x1="49.60" y1="584.60" x2="52.60" y2="584.60" stroke="#111" stroke-width="1.0"/>
<text x="47.20" y="587.50" font-size="8.4" text-anchor="end" fill="#111">1000</text>
<line x1="49.60" y1="546.40" x2="52.60" y2="546.40" stroke="#111" stroke-width="1.0"/>
<text x="47.20" y="549.30" font-size="8.4" text-anchor="end" fill="#111">1500</text>
<text x="21.30" y="604.30" font-size="9.0" text-anchor="middle" fill="#111" transform="rotate(-90 21.30 604.30)">Caspase 3/7 activity (% control)</text>
<line x1="86.50" y1="628.61" x2="86.50" y2="630.40" stroke="#000" stroke-width="1.2"/>
<line x1="77.80" y1="628.61" x2="95.20" y2="628.61" stroke="#111" stroke-width="1.4"/>
<rect x="70.10" y="630.40" width="33.00" height="30.60" fill="#2e5192"/>
<line x1="86.50" y1="661.00" x2="86.50" y2="664.00" stroke="#111" stroke-width="1.0"/>
<g transform="translate(89.50 672.30) rotate(-33)">
<text x="0" y="0" font-size="8.0" text-anchor="end" fill="#111"><tspan x="-19.57" y="0" text-anchor="middle">Venetoclax</tspan><tspan x="-19.57" y="9.8" text-anchor="middle">[1&#956;M]</tspan></text>
</g>
<line x1="138.50" y1="643.81" x2="138.50" y2="646.48" stroke="#000" stroke-width="1.2"/>
<line x1="129.80" y1="643.81" x2="147.20" y2="643.81" stroke="#111" stroke-width="1.4"/>
<rect x="121.60" y="646.48" width="33.00" height="14.52" fill="#b10b34"/>
<line x1="138.50" y1="661.00" x2="138.50" y2="664.00" stroke="#111" stroke-width="1.0"/>
<g transform="translate(141.50 672.30) rotate(-33)">
<text x="0" y="0" font-size="8.0" text-anchor="end" fill="#111"><tspan x="-17.79" y="0" text-anchor="middle">Vorinostat</tspan><tspan x="-17.79" y="9.8" text-anchor="middle">[10&#956;M]</tspan></text>
</g>
<line x1="189.50" y1="605.08" x2="189.50" y2="608.51" stroke="#000" stroke-width="1.2"/>
<line x1="180.80" y1="605.08" x2="198.20" y2="605.08" stroke="#111" stroke-width="1.4"/>
<rect x="172.90" y="608.51" width="33.40" height="52.49" fill="#6aab3d"/>
<line x1="189.50" y1="661.00" x2="189.50" y2="664.00" stroke="#111" stroke-width="1.0"/>
<g transform="translate(192.50 672.30) rotate(-33)">
<text x="0" y="0" font-size="8.0" text-anchor="end" fill="#111"><tspan x="-34.21" y="0" text-anchor="middle">Venetoclax [1&#956;M] +</tspan><tspan x="-34.21" y="9.8" text-anchor="middle">Vorinostat [10&#956;M]</tspan></text>
</g>
<polyline points="86.90,561.50 86.90,559.10 190.00,559.10 190.00,561.50" fill="none" stroke="#111" stroke-width="1.1" stroke-linejoin="round"/>
<text x="137.70" y="555.60" font-size="7.4" text-anchor="middle" fill="#111"><tspan font-style="italic">P</tspan> &lt; .0001</text>
<polyline points="138.30,573.20 138.30,570.80 190.00,570.80 190.00,573.20" fill="none" stroke="#111" stroke-width="1.1" stroke-linejoin="round"/>
<text x="163.80" y="567.40" font-size="7.4" text-anchor="middle" fill="#111"><tspan font-style="italic">P</tspan> &lt; .0001</text>
<line x1="314.40" y1="544.40" x2="314.40" y2="661.10" stroke="#111" stroke-width="1.2"/>
<line x1="313.90" y1="660.60" x2="487.70" y2="660.60" stroke="#111" stroke-width="1.2"/>
<line x1="311.40" y1="660.60" x2="314.40" y2="660.60" stroke="#111" stroke-width="1.0"/>
<text x="309.00" y="663.50" font-size="8.4" text-anchor="end" fill="#111">0</text>
<line x1="311.40" y1="622.40" x2="314.40" y2="622.40" stroke="#111" stroke-width="1.0"/>
<text x="309.00" y="625.30" font-size="8.4" text-anchor="end" fill="#111">500</text>
<line x1="311.40" y1="584.20" x2="314.40" y2="584.20" stroke="#111" stroke-width="1.0"/>
<text x="309.00" y="587.10" font-size="8.4" text-anchor="end" fill="#111">1000</text>
<line x1="311.40" y1="546.00" x2="314.40" y2="546.00" stroke="#111" stroke-width="1.0"/>
<text x="309.00" y="548.90" font-size="8.4" text-anchor="end" fill="#111">1500</text>
<text x="285.10" y="603.30" font-size="9.0" text-anchor="middle" fill="#111" transform="rotate(-90 285.10 603.30)">Caspase 3/7 activity (% control)</text>
<line x1="350.50" y1="627.75" x2="350.50" y2="630.00" stroke="#000" stroke-width="1.2"/>
<line x1="341.80" y1="627.75" x2="359.20" y2="627.75" stroke="#111" stroke-width="1.4"/>
<rect x="333.70" y="630.00" width="33.80" height="30.60" fill="#2e5192"/>
<line x1="350.50" y1="660.60" x2="350.50" y2="663.60" stroke="#111" stroke-width="1.0"/>
<g transform="translate(353.50 671.90) rotate(-33)">
<text x="0" y="0" font-size="8.0" text-anchor="end" fill="#111"><tspan x="-19.57" y="0" text-anchor="middle">Venetoclax</tspan><tspan x="-19.57" y="9.8" text-anchor="middle">[1&#956;M]</tspan></text>
</g>
<line x1="401.50" y1="638.52" x2="401.50" y2="641.88" stroke="#000" stroke-width="1.2"/>
<line x1="392.80" y1="638.52" x2="410.20" y2="638.52" stroke="#111" stroke-width="1.4"/>
<rect x="385.20" y="641.88" width="33.50" height="18.72" fill="#b10b34"/>
<line x1="401.50" y1="660.60" x2="401.50" y2="663.60" stroke="#111" stroke-width="1.0"/>
<g transform="translate(404.50 671.90) rotate(-33)">
<text x="0" y="0" font-size="8.0" text-anchor="end" fill="#111"><tspan x="-21.12" y="0" text-anchor="middle">Romidepsin</tspan><tspan x="-21.12" y="9.8" text-anchor="middle">[10nM]</tspan></text>
</g>
<line x1="453.50" y1="584.58" x2="453.50" y2="597.57" stroke="#000" stroke-width="1.2"/>
<line x1="444.80" y1="584.58" x2="462.20" y2="584.58" stroke="#111" stroke-width="1.4"/>
<rect x="436.20" y="597.57" width="33.80" height="63.03" fill="#6aab3d"/>
<line x1="453.50" y1="660.60" x2="453.50" y2="663.60" stroke="#111" stroke-width="1.0"/>
<g transform="translate(456.50 671.90) rotate(-33)">
<text x="0" y="0" font-size="8.0" text-anchor="end" fill="#111"><tspan x="-34.21" y="0" text-anchor="middle">Venetoclax [1&#956;M] +</tspan><tspan x="-34.21" y="9.8" text-anchor="middle">Romidepsin [10nM]</tspan></text>
</g>
<polyline points="350.40,561.70 350.40,559.30 453.50,559.30 453.50,561.70" fill="none" stroke="#111" stroke-width="1.1" stroke-linejoin="round"/>
<text x="402.00" y="555.00" font-size="7.4" text-anchor="middle" fill="#111"><tspan font-style="italic">P</tspan> = .0017</text>
<polyline points="401.60,574.60 401.60,572.20 453.50,572.20 453.50,574.60" fill="none" stroke="#111" stroke-width="1.1" stroke-linejoin="round"/>
<text x="427.00" y="568.80" font-size="7.4" text-anchor="middle" fill="#111">P = .0004</text>
</svg>
</body></html>
